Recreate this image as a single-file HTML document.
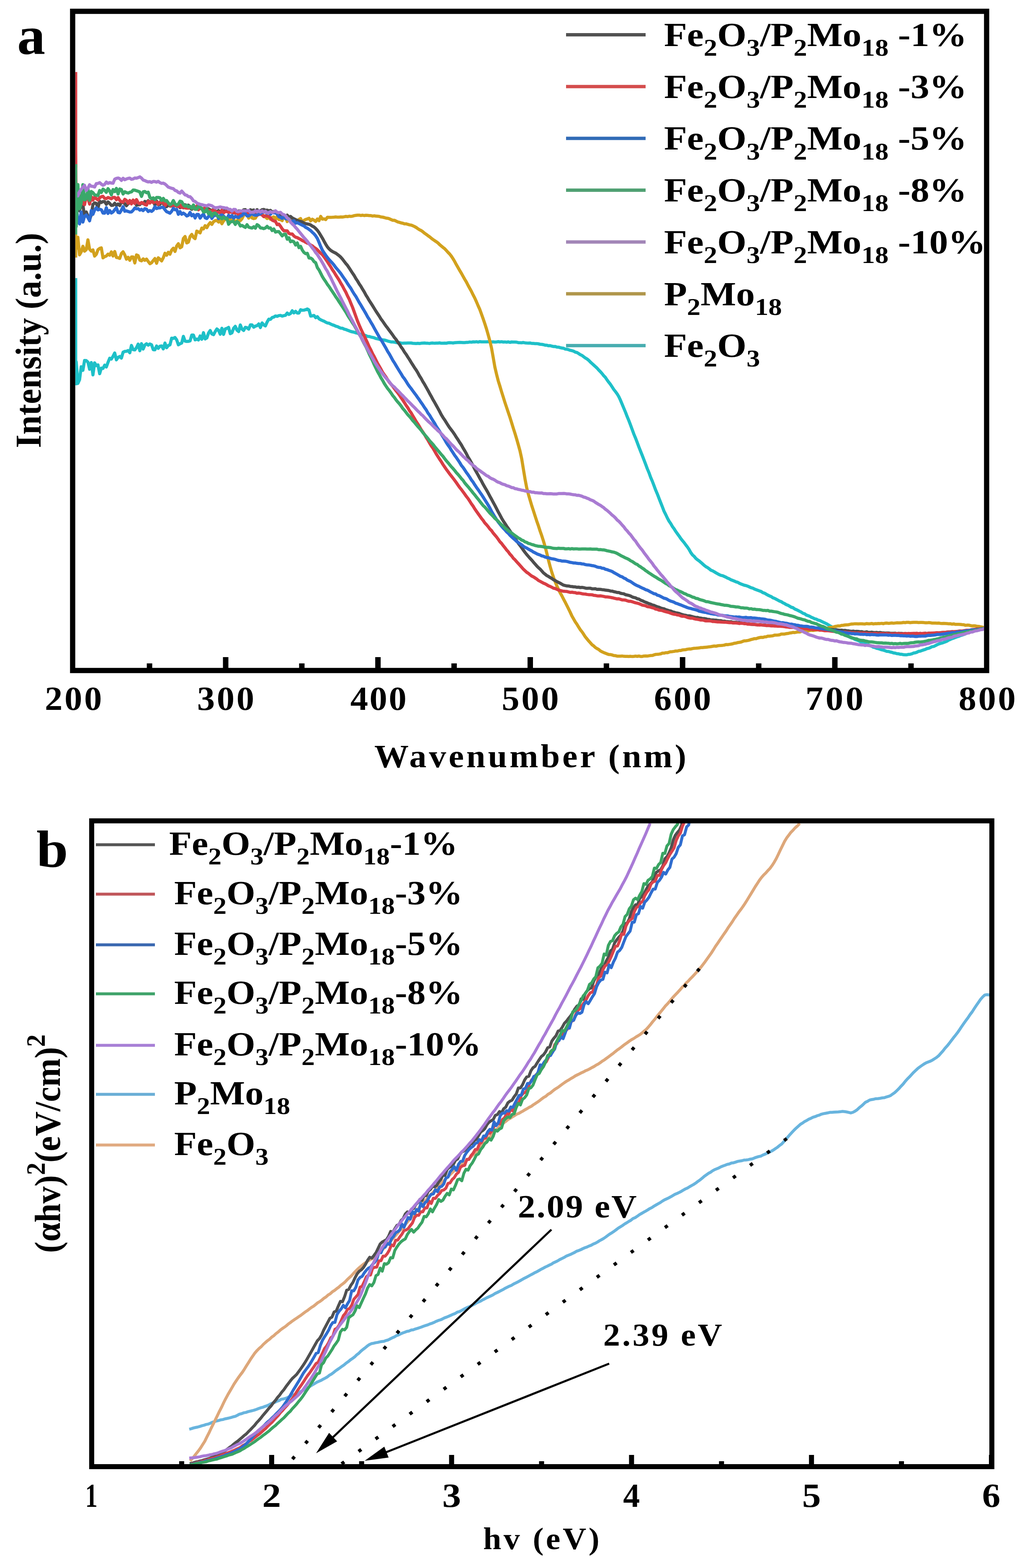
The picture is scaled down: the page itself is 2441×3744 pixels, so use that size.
<!DOCTYPE html><html><head><meta charset="utf-8"><title>UV-vis spectra</title><style>html,body{margin:0;padding:0;background:#fff;}svg{display:block;}</style></head><body>
<svg width="2441" height="3744" viewBox="0 0 2441 3744">
<rect width="2441" height="3744" fill="#fff"/>
<g clip-path="url(#clipa)">
<defs><clipPath id="clipa"><rect x="180" y="33" width="2170" height="1562"/></clipPath><clipPath id="clipb"><rect x="225" y="1965" width="2138" height="1532"/></clipPath></defs>
<path d="M178.0 907.1 L182.0 864.2 L186.0 915.5 L190.0 906.7 L194.0 875.8 L198.0 884.1 L202.0 860.7 L206.0 861.1 L210.0 864.5 L214.0 881.6 L218.0 865.7 L222.0 895.1 L226.0 866.5 L230.0 873.0 L234.0 871.3 L238.0 892.3 L242.0 879.0 L246.0 879.7 L250.0 871.9 L254.0 876.2 L258.0 865.2 L262.0 855.4 L266.0 857.4 L270.0 850.8 L274.0 842.8 L278.0 859.2 L282.0 853.4 L286.0 851.2 L290.0 854.9 L294.0 841.0 L298.0 839.1 L302.0 838.8 L306.0 837.0 L310.0 842.3 L314.0 824.9 L318.0 834.9 L322.0 835.6 L326.0 830.1 L330.0 821.7 L334.0 837.4 L338.0 820.6 L342.0 833.4 L346.0 823.7 L350.0 820.9 L354.0 824.2 L358.0 821.4 L362.0 823.2 L366.0 834.9 L370.0 835.3 L374.0 826.2 L378.0 831.8 L382.0 826.7 L386.0 826.0 L390.0 833.1 L394.0 819.2 L398.0 830.2 L402.0 824.9 L406.0 823.4 L410.0 807.5 L414.0 808.0 L418.0 805.8 L422.0 811.5 L426.0 823.3 L430.0 820.8 L434.0 819.1 L438.0 803.2 L442.0 814.6 L446.0 815.2 L450.0 815.1 L454.0 814.0 L458.0 799.9 L462.0 800.0 L466.0 811.5 L470.0 809.6 L474.0 811.8 L478.0 802.2 L482.0 810.0 L486.0 794.4 L490.0 809.3 L494.0 806.9 L498.0 795.4 L502.0 789.2 L506.0 797.4 L510.0 799.1 L514.0 791.8 L518.0 785.4 L522.0 788.7 L526.0 798.0 L530.0 783.8 L534.0 798.5 L538.0 785.4 L542.0 784.0 L546.0 781.8 L550.0 796.7 L554.0 794.6 L558.0 783.8 L562.0 779.3 L566.0 788.4 L570.0 791.7 L574.0 776.0 L578.0 785.9 L582.0 789.0 L586.0 781.5 L590.0 782.7 L594.0 785.9 L598.0 775.8 L602.0 775.7 L606.0 781.2 L610.0 778.7 L614.0 777.6 L618.0 773.5 L622.0 782.1 L626.0 771.0 L630.0 775.9 L634.0 778.1 L638.0 768.9 L642.0 762.1 L646.0 762.6 L650.0 758.2 L654.0 757.1 L658.0 754.4 L662.0 755.4 L666.0 753.6 L670.0 753.1 L674.0 754.8 L678.0 753.7 L682.0 752.8 L686.0 747.4 L690.0 750.8 L694.0 748.5 L698.0 742.0 L702.0 747.1 L706.0 743.4 L710.0 747.5 L714.0 747.4 L718.0 739.6 L722.0 740.8 L726.0 740.6 L730.0 739.4 L734.0 737.8 L738.0 740.3 L742.0 754.7 L746.0 754.2 L750.0 753.2 L754.0 758.6 L758.0 756.1 L762.0 761.3 L766.0 763.6 L770.0 765.4 L774.0 766.9 L778.0 769.4 L782.0 771.1 L786.0 771.8 L790.0 773.9 L794.0 775.6 L798.0 776.9 L802.0 778.9 L806.0 779.8 L810.0 781.9 L814.0 783.4 L818.0 783.8 L822.0 785.9 L826.0 786.8 L830.0 788.5 L834.0 789.9 L838.0 791.5 L842.0 792.5 L846.0 793.2 L850.0 794.9 L854.0 795.5 L858.0 797.4 L862.0 798.2 L866.0 799.2 L870.0 800.3 L874.0 801.4 L878.0 803.3 L882.0 803.5 L886.0 804.8 L890.0 805.7 L894.0 806.7 L898.0 808.4 L902.0 809.1 L906.0 810.1 L910.0 811.3 L914.0 811.6 L918.0 812.0 L922.0 813.0 L926.0 814.3 L930.0 815.4 L934.0 816.4 L938.0 816.6 L942.0 816.9 L946.0 817.8 L950.0 818.6 L954.0 818.2 L958.0 819.2 L962.0 819.5 L966.0 819.2 L970.0 819.3 L974.0 819.0 L978.0 819.1 L982.0 819.0 L986.0 819.8 L990.0 819.9 L994.0 820.3 L998.0 819.8 L1002.0 820.3 L1006.0 819.6 L1010.0 819.2 L1014.0 819.1 L1018.0 819.4 L1022.0 819.6 L1026.0 820.1 L1030.0 819.2 L1034.0 819.1 L1038.0 819.6 L1042.0 819.2 L1046.0 819.3 L1050.0 818.8 L1054.0 819.6 L1058.0 819.6 L1062.0 819.3 L1066.0 819.5 L1070.0 818.6 L1074.0 818.2 L1078.0 818.4 L1082.0 819.0 L1086.0 818.3 L1090.0 817.9 L1094.0 817.7 L1098.0 817.5 L1102.0 817.7 L1106.0 818.1 L1110.0 817.9 L1114.0 817.6 L1118.0 817.4 L1122.0 816.6 L1126.0 817.1 L1130.0 816.3 L1134.0 816.6 L1138.0 815.9 L1142.0 816.8 L1146.0 815.7 L1150.0 816.3 L1154.0 816.3 L1158.0 816.2 L1162.0 816.2 L1166.0 815.9 L1170.0 816.4 L1174.0 816.6 L1178.0 816.2 L1182.0 816.7 L1186.0 816.6 L1190.0 815.7 L1194.0 816.5 L1198.0 815.9 L1202.0 816.7 L1206.0 816.4 L1210.0 817.1 L1214.0 816.3 L1218.0 817.5 L1222.0 816.5 L1226.0 816.7 L1230.0 816.7 L1234.0 817.0 L1238.0 818.2 L1242.0 818.2 L1246.0 818.5 L1250.0 817.8 L1254.0 818.7 L1258.0 819.0 L1262.0 819.2 L1266.0 818.9 L1270.0 820.0 L1274.0 820.1 L1278.0 820.4 L1282.0 820.4 L1286.0 821.0 L1290.0 822.0 L1294.0 822.3 L1298.0 823.0 L1302.0 824.2 L1306.0 824.3 L1310.0 825.6 L1314.0 825.3 L1318.0 826.5 L1322.0 827.4 L1326.0 827.2 L1330.0 828.7 L1334.0 828.9 L1338.0 830.1 L1342.0 831.0 L1346.0 831.5 L1350.0 833.5 L1354.0 833.8 L1358.0 834.9 L1362.0 836.4 L1366.0 837.2 L1370.0 838.5 L1374.0 840.8 L1378.0 841.7 L1382.0 844.1 L1386.0 846.8 L1390.0 848.6 L1394.0 851.8 L1398.0 854.7 L1402.0 857.0 L1406.0 860.2 L1410.0 864.4 L1414.0 868.0 L1418.0 871.6 L1422.0 875.3 L1426.0 878.9 L1430.0 883.5 L1434.0 887.5 L1438.0 892.0 L1442.0 897.1 L1446.0 901.2 L1450.0 907.3 L1454.0 912.7 L1458.0 917.7 L1462.0 923.8 L1466.0 930.0 L1470.0 935.0 L1474.0 940.4 L1478.0 947.1 L1482.0 955.7 L1486.0 965.2 L1490.0 974.9 L1494.0 984.4 L1498.0 994.8 L1502.0 1004.4 L1506.0 1014.8 L1510.0 1025.8 L1514.0 1036.6 L1518.0 1046.2 L1522.0 1056.6 L1526.0 1067.4 L1530.0 1077.5 L1534.0 1087.5 L1538.0 1097.8 L1542.0 1108.4 L1546.0 1119.1 L1550.0 1128.6 L1554.0 1139.7 L1558.0 1149.0 L1562.0 1159.4 L1566.0 1170.1 L1570.0 1179.4 L1574.0 1189.9 L1578.0 1200.0 L1582.0 1210.2 L1586.0 1220.6 L1590.0 1228.5 L1594.0 1237.0 L1598.0 1244.4 L1602.0 1250.2 L1606.0 1257.2 L1610.0 1262.5 L1614.0 1268.9 L1618.0 1274.5 L1622.0 1279.9 L1626.0 1285.9 L1630.0 1290.9 L1634.0 1295.6 L1638.0 1301.1 L1642.0 1306.2 L1646.0 1312.3 L1650.0 1319.5 L1654.0 1325.0 L1658.0 1328.5 L1662.0 1333.3 L1666.0 1336.7 L1670.0 1339.4 L1674.0 1342.8 L1678.0 1346.4 L1682.0 1350.1 L1686.0 1353.1 L1690.0 1355.2 L1694.0 1358.2 L1698.0 1361.5 L1702.0 1363.0 L1706.0 1365.2 L1710.0 1367.7 L1714.0 1370.0 L1718.0 1372.1 L1722.0 1373.9 L1726.0 1374.6 L1730.0 1376.5 L1734.0 1378.2 L1738.0 1380.6 L1742.0 1382.1 L1746.0 1384.5 L1750.0 1385.9 L1754.0 1387.5 L1758.0 1389.3 L1762.0 1390.4 L1766.0 1392.8 L1770.0 1394.4 L1774.0 1396.0 L1778.0 1397.5 L1782.0 1398.3 L1786.0 1399.7 L1790.0 1401.5 L1794.0 1403.4 L1798.0 1404.3 L1802.0 1406.6 L1806.0 1408.1 L1810.0 1409.6 L1814.0 1411.0 L1818.0 1412.4 L1822.0 1415.1 L1826.0 1416.3 L1830.0 1418.7 L1834.0 1421.0 L1838.0 1422.9 L1842.0 1424.5 L1846.0 1427.4 L1850.0 1428.8 L1854.0 1430.9 L1858.0 1433.0 L1862.0 1435.3 L1866.0 1436.6 L1870.0 1439.4 L1874.0 1441.2 L1878.0 1443.7 L1882.0 1445.2 L1886.0 1447.5 L1890.0 1450.0 L1894.0 1451.0 L1898.0 1454.0 L1902.0 1455.7 L1906.0 1457.6 L1910.0 1459.7 L1914.0 1461.7 L1918.0 1464.5 L1922.0 1465.7 L1926.0 1468.6 L1930.0 1470.0 L1934.0 1471.6 L1938.0 1474.0 L1942.0 1475.5 L1946.0 1477.6 L1950.0 1478.4 L1954.0 1480.7 L1958.0 1481.6 L1962.0 1483.6 L1966.0 1485.6 L1970.0 1487.4 L1974.0 1489.3 L1978.0 1491.7 L1982.0 1494.2 L1986.0 1496.3 L1990.0 1499.1 L1994.0 1502.1 L1998.0 1504.0 L2002.0 1507.3 L2006.0 1508.4 L2010.0 1510.9 L2014.0 1513.5 L2018.0 1514.8 L2022.0 1516.9 L2026.0 1518.7 L2030.0 1521.6 L2034.0 1523.4 L2038.0 1524.3 L2042.0 1526.7 L2046.0 1528.1 L2050.0 1529.7 L2054.0 1531.7 L2058.0 1534.0 L2062.0 1535.5 L2066.0 1536.9 L2070.0 1538.9 L2074.0 1539.9 L2078.0 1541.8 L2082.0 1543.1 L2086.0 1545.4 L2090.0 1546.3 L2094.0 1548.0 L2098.0 1548.9 L2102.0 1550.2 L2106.0 1551.6 L2110.0 1552.4 L2114.0 1553.8 L2118.0 1555.3 L2122.0 1555.5 L2126.0 1556.7 L2130.0 1557.5 L2134.0 1559.0 L2138.0 1559.5 L2142.0 1560.8 L2146.0 1561.1 L2150.0 1562.2 L2154.0 1562.3 L2158.0 1563.3 L2162.0 1563.4 L2166.0 1563.5 L2170.0 1562.4 L2174.0 1562.2 L2178.0 1561.2 L2182.0 1559.3 L2186.0 1558.8 L2190.0 1557.4 L2194.0 1555.2 L2198.0 1554.7 L2202.0 1553.3 L2206.0 1551.9 L2210.0 1550.7 L2214.0 1548.7 L2218.0 1547.9 L2222.0 1546.3 L2226.0 1544.1 L2230.0 1543.6 L2234.0 1541.7 L2238.0 1539.4 L2242.0 1537.8 L2246.0 1536.4 L2250.0 1535.4 L2254.0 1533.9 L2258.0 1532.5 L2262.0 1530.8 L2266.0 1528.3 L2270.0 1526.7 L2274.0 1524.9 L2278.0 1523.6 L2282.0 1522.0 L2286.0 1520.4 L2290.0 1519.4 L2294.0 1517.6 L2298.0 1516.4 L2302.0 1515.0 L2306.0 1513.4 L2310.0 1511.6 L2314.0 1510.0 L2318.0 1508.8 L2322.0 1507.3 L2326.0 1506.1 L2330.0 1505.0 L2334.0 1503.5 L2338.0 1501.7 L2342.0 1501.0 L2346.0 1500.0 L2350.0 1499.0 L2354.0 1498.7 L2356.0 1499.0" fill="none" stroke="#1ec0c8" stroke-width="7.5" stroke-linejoin="round" stroke-linecap="butt" />
<path d="M178.0 542.6 L182.0 593.5 L186.0 566.8 L190.0 608.4 L194.0 601.4 L198.0 588.0 L202.0 599.7 L206.0 596.2 L210.0 572.7 L214.0 595.1 L218.0 599.6 L222.0 596.7 L226.0 611.4 L230.0 607.2 L234.0 596.2 L238.0 593.1 L242.0 591.9 L246.0 615.6 L250.0 612.8 L254.0 611.2 L258.0 606.8 L262.0 609.3 L266.0 601.5 L270.0 611.3 L274.0 600.5 L278.0 614.8 L282.0 615.4 L286.0 616.9 L290.0 605.2 L294.0 601.3 L298.0 608.5 L302.0 618.8 L306.0 614.4 L310.0 621.5 L314.0 613.6 L318.0 613.4 L322.0 627.8 L326.0 608.7 L330.0 610.5 L334.0 621.2 L338.0 622.9 L342.0 618.1 L346.0 621.6 L350.0 618.6 L354.0 624.3 L358.0 629.6 L362.0 627.4 L366.0 622.1 L370.0 617.3 L374.0 628.6 L378.0 615.6 L382.0 618.9 L386.0 623.0 L390.0 615.5 L394.0 604.7 L398.0 609.3 L402.0 602.4 L406.0 606.9 L410.0 597.3 L414.0 592.6 L418.0 600.3 L422.0 587.4 L426.0 581.9 L430.0 591.7 L434.0 589.3 L438.0 569.4 L442.0 564.8 L446.0 580.0 L450.0 578.1 L454.0 564.8 L458.0 559.7 L462.0 566.7 L466.0 569.8 L470.0 551.9 L474.0 553.9 L478.0 556.0 L482.0 544.6 L486.0 546.5 L490.0 538.8 L494.0 543.6 L498.0 536.5 L502.0 531.5 L506.0 535.8 L510.0 529.3 L514.0 527.0 L518.0 526.2 L522.0 530.2 L526.0 527.2 L530.0 534.2 L534.0 527.4 L538.0 523.5 L542.0 521.8 L546.0 523.3 L550.0 530.8 L554.0 520.1 L558.0 524.1 L562.0 529.3 L566.0 528.7 L570.0 521.1 L574.0 526.8 L578.0 522.2 L582.0 514.0 L586.0 510.8 L590.0 511.2 L594.0 520.9 L598.0 513.5 L602.0 520.4 L606.0 522.0 L610.0 520.9 L614.0 513.5 L618.0 506.1 L622.0 510.6 L626.0 510.0 L630.0 517.0 L634.0 518.1 L638.0 521.9 L642.0 519.1 L646.0 523.6 L650.0 519.5 L654.0 517.8 L658.0 523.8 L662.0 516.5 L666.0 524.3 L670.0 524.2 L674.0 526.7 L678.0 516.1 L682.0 518.4 L686.0 529.1 L690.0 518.8 L694.0 523.4 L698.0 525.8 L702.0 524.7 L706.0 530.2 L710.0 531.4 L714.0 524.1 L718.0 521.9 L722.0 531.7 L726.0 526.3 L730.0 524.0 L734.0 522.8 L738.0 521.1 L742.0 527.4 L746.0 523.4 L750.0 525.7 L754.0 528.8 L758.0 522.9 L762.0 526.9 L766.0 516.7 L770.0 523.3 L774.0 522.6 L778.0 524.3 L782.0 518.8 L786.0 519.1 L790.0 518.9 L794.0 518.8 L798.0 518.5 L802.0 518.0 L806.0 518.6 L810.0 518.5 L814.0 518.1 L818.0 518.2 L822.0 517.6 L826.0 516.8 L830.0 517.3 L834.0 516.3 L838.0 516.7 L842.0 516.1 L846.0 514.9 L850.0 514.2 L854.0 513.7 L858.0 513.7 L862.0 514.6 L866.0 513.8 L870.0 514.7 L874.0 513.9 L878.0 514.3 L882.0 514.7 L886.0 514.8 L890.0 515.9 L894.0 515.3 L898.0 516.1 L902.0 516.2 L906.0 516.7 L910.0 518.1 L914.0 518.5 L918.0 519.5 L922.0 520.8 L926.0 521.2 L930.0 522.3 L934.0 524.3 L938.0 525.9 L942.0 526.0 L946.0 527.8 L950.0 529.8 L954.0 530.9 L958.0 532.3 L962.0 533.0 L966.0 534.6 L970.0 534.4 L974.0 535.7 L978.0 536.9 L982.0 537.5 L986.0 539.1 L990.0 540.9 L994.0 543.1 L998.0 546.0 L1002.0 548.7 L1006.0 550.5 L1010.0 553.4 L1014.0 556.8 L1018.0 559.6 L1022.0 562.6 L1026.0 565.4 L1030.0 568.7 L1034.0 571.7 L1038.0 574.5 L1042.0 577.1 L1046.0 580.0 L1050.0 584.0 L1054.0 587.3 L1058.0 590.7 L1062.0 593.7 L1066.0 598.1 L1070.0 602.5 L1074.0 606.5 L1078.0 611.6 L1082.0 617.8 L1086.0 624.4 L1090.0 631.9 L1094.0 638.9 L1098.0 645.8 L1102.0 652.5 L1106.0 659.8 L1110.0 666.9 L1114.0 673.5 L1118.0 681.4 L1122.0 688.6 L1126.0 695.8 L1130.0 704.1 L1134.0 711.8 L1138.0 720.6 L1142.0 730.1 L1146.0 738.9 L1150.0 750.0 L1154.0 761.3 L1158.0 773.0 L1162.0 785.5 L1166.0 799.5 L1170.0 814.0 L1174.0 831.1 L1178.0 853.7 L1182.0 876.7 L1186.0 893.6 L1190.0 909.3 L1194.0 922.0 L1198.0 935.5 L1202.0 948.2 L1206.0 961.0 L1210.0 972.9 L1214.0 984.7 L1218.0 996.6 L1222.0 1009.3 L1226.0 1022.5 L1230.0 1034.9 L1234.0 1048.1 L1238.0 1062.1 L1242.0 1076.7 L1246.0 1095.1 L1250.0 1119.6 L1254.0 1143.7 L1258.0 1164.8 L1262.0 1180.0 L1266.0 1193.8 L1270.0 1207.3 L1274.0 1219.4 L1278.0 1231.8 L1282.0 1244.2 L1286.0 1255.6 L1290.0 1268.0 L1294.0 1279.3 L1298.0 1291.8 L1302.0 1305.1 L1306.0 1320.8 L1310.0 1337.6 L1314.0 1352.8 L1318.0 1366.5 L1322.0 1378.5 L1326.0 1389.2 L1330.0 1398.8 L1334.0 1407.5 L1338.0 1415.6 L1342.0 1422.6 L1346.0 1430.5 L1350.0 1438.0 L1354.0 1445.9 L1358.0 1453.9 L1362.0 1462.1 L1366.0 1470.9 L1370.0 1477.8 L1374.0 1484.9 L1378.0 1490.6 L1382.0 1497.3 L1386.0 1503.6 L1390.0 1508.5 L1394.0 1514.4 L1398.0 1520.7 L1402.0 1525.5 L1406.0 1530.4 L1410.0 1534.7 L1414.0 1539.4 L1418.0 1542.3 L1422.0 1546.1 L1426.0 1548.6 L1430.0 1550.8 L1434.0 1554.3 L1438.0 1556.4 L1442.0 1558.2 L1446.0 1559.7 L1450.0 1561.4 L1454.0 1562.8 L1458.0 1562.9 L1462.0 1563.9 L1466.0 1565.3 L1470.0 1565.6 L1474.0 1566.7 L1478.0 1566.8 L1482.0 1566.7 L1486.0 1566.4 L1490.0 1567.1 L1494.0 1567.2 L1498.0 1567.2 L1502.0 1567.5 L1506.0 1567.1 L1510.0 1567.6 L1514.0 1567.2 L1518.0 1566.6 L1522.0 1567.3 L1526.0 1566.5 L1530.0 1567.4 L1534.0 1567.4 L1538.0 1566.4 L1542.0 1566.2 L1546.0 1566.6 L1550.0 1565.9 L1554.0 1565.3 L1558.0 1565.1 L1562.0 1563.7 L1566.0 1562.6 L1570.0 1562.3 L1574.0 1561.9 L1578.0 1561.3 L1582.0 1559.5 L1586.0 1559.6 L1590.0 1558.5 L1594.0 1558.6 L1598.0 1557.2 L1602.0 1556.2 L1606.0 1555.9 L1610.0 1555.4 L1614.0 1554.4 L1618.0 1554.5 L1622.0 1553.3 L1626.0 1553.2 L1630.0 1551.9 L1634.0 1551.6 L1638.0 1551.2 L1642.0 1550.1 L1646.0 1549.6 L1650.0 1549.7 L1654.0 1548.6 L1658.0 1548.0 L1662.0 1547.8 L1666.0 1547.4 L1670.0 1547.1 L1674.0 1546.3 L1678.0 1546.2 L1682.0 1545.8 L1686.0 1545.4 L1690.0 1545.0 L1694.0 1544.4 L1698.0 1544.0 L1702.0 1543.2 L1706.0 1542.5 L1710.0 1543.0 L1714.0 1542.0 L1718.0 1541.4 L1722.0 1541.2 L1726.0 1540.9 L1730.0 1540.4 L1734.0 1539.0 L1738.0 1539.2 L1742.0 1538.6 L1746.0 1538.0 L1750.0 1537.2 L1754.0 1535.9 L1758.0 1535.5 L1762.0 1534.3 L1766.0 1533.7 L1770.0 1533.0 L1774.0 1531.4 L1778.0 1530.2 L1782.0 1530.0 L1786.0 1529.4 L1790.0 1528.4 L1794.0 1527.0 L1798.0 1526.1 L1802.0 1524.9 L1806.0 1525.0 L1810.0 1523.5 L1814.0 1522.5 L1818.0 1521.8 L1822.0 1522.1 L1826.0 1520.8 L1830.0 1520.6 L1834.0 1519.0 L1838.0 1518.9 L1842.0 1518.6 L1846.0 1518.0 L1850.0 1516.6 L1854.0 1516.4 L1858.0 1516.2 L1862.0 1515.7 L1866.0 1514.1 L1870.0 1514.1 L1874.0 1513.9 L1878.0 1513.0 L1882.0 1512.6 L1886.0 1511.5 L1890.0 1511.1 L1894.0 1510.0 L1898.0 1510.4 L1902.0 1509.6 L1906.0 1508.7 L1910.0 1509.1 L1914.0 1507.8 L1918.0 1507.2 L1922.0 1507.5 L1926.0 1506.3 L1930.0 1506.6 L1934.0 1505.5 L1938.0 1504.9 L1942.0 1505.3 L1946.0 1504.7 L1950.0 1504.2 L1954.0 1503.6 L1958.0 1503.0 L1962.0 1501.7 L1966.0 1501.3 L1970.0 1500.7 L1974.0 1500.3 L1978.0 1499.3 L1982.0 1498.4 L1986.0 1498.1 L1990.0 1497.4 L1994.0 1496.0 L1998.0 1495.3 L2002.0 1494.4 L2006.0 1494.7 L2010.0 1493.2 L2014.0 1493.0 L2018.0 1492.3 L2022.0 1491.9 L2026.0 1491.7 L2030.0 1490.9 L2034.0 1490.0 L2038.0 1489.9 L2042.0 1489.4 L2046.0 1489.4 L2050.0 1489.7 L2054.0 1489.5 L2058.0 1489.4 L2062.0 1489.7 L2066.0 1489.9 L2070.0 1489.0 L2074.0 1489.5 L2078.0 1489.4 L2082.0 1488.7 L2086.0 1489.8 L2090.0 1489.1 L2094.0 1489.3 L2098.0 1488.7 L2102.0 1488.9 L2106.0 1488.4 L2110.0 1489.2 L2114.0 1488.0 L2118.0 1487.8 L2122.0 1488.4 L2126.0 1488.0 L2130.0 1487.5 L2134.0 1488.1 L2138.0 1487.6 L2142.0 1487.1 L2146.0 1487.2 L2150.0 1487.3 L2154.0 1487.0 L2158.0 1486.3 L2162.0 1486.7 L2166.0 1485.9 L2170.0 1486.0 L2174.0 1486.7 L2178.0 1486.3 L2182.0 1485.9 L2186.0 1486.1 L2190.0 1486.0 L2194.0 1486.4 L2198.0 1486.3 L2202.0 1486.3 L2206.0 1486.4 L2210.0 1487.1 L2214.0 1487.1 L2218.0 1486.6 L2222.0 1486.9 L2226.0 1487.7 L2230.0 1487.7 L2234.0 1487.8 L2238.0 1488.0 L2242.0 1487.7 L2246.0 1488.4 L2250.0 1488.8 L2254.0 1488.6 L2258.0 1488.8 L2262.0 1489.1 L2266.0 1489.5 L2270.0 1489.3 L2274.0 1490.3 L2278.0 1489.7 L2282.0 1490.8 L2286.0 1490.8 L2290.0 1490.8 L2294.0 1491.1 L2298.0 1491.5 L2302.0 1491.7 L2306.0 1493.1 L2310.0 1492.6 L2314.0 1492.7 L2318.0 1493.8 L2322.0 1494.6 L2326.0 1494.2 L2330.0 1494.6 L2334.0 1495.6 L2338.0 1495.8 L2342.0 1496.6 L2346.0 1497.4 L2350.0 1498.6 L2354.0 1498.5 L2356.0 1499.0" fill="none" stroke="#d2a11d" stroke-width="7.5" stroke-linejoin="round" stroke-linecap="butt" />
<path d="M178.0 516.4 L182.0 480.1 L186.0 499.1 L190.0 503.5 L194.0 485.9 L198.0 489.6 L202.0 517.1 L206.0 506.1 L210.0 516.0 L214.0 524.6 L218.0 513.1 L222.0 488.1 L226.0 484.4 L230.0 485.6 L234.0 496.5 L238.0 480.3 L242.0 483.6 L246.0 481.2 L250.0 481.4 L254.0 487.7 L258.0 482.1 L262.0 485.6 L266.0 490.4 L270.0 490.1 L274.0 485.3 L278.0 490.6 L282.0 487.2 L286.0 490.7 L290.0 482.2 L294.0 483.7 L298.0 486.4 L302.0 491.2 L306.0 486.4 L310.0 484.1 L314.0 480.9 L318.0 481.1 L322.0 480.1 L326.0 490.2 L330.0 488.7 L334.0 488.7 L338.0 483.9 L342.0 486.2 L346.0 480.9 L350.0 483.3 L354.0 479.2 L358.0 482.8 L362.0 480.9 L366.0 479.3 L370.0 489.7 L374.0 480.0 L378.0 489.0 L382.0 488.1 L386.0 481.2 L390.0 486.4 L394.0 493.0 L398.0 493.4 L402.0 488.9 L406.0 491.9 L410.0 491.7 L414.0 487.5 L418.0 491.0 L422.0 492.1 L426.0 490.4 L430.0 495.7 L434.0 492.1 L438.0 496.0 L442.0 489.0 L446.0 493.7 L450.0 489.9 L454.0 496.8 L458.0 499.7 L462.0 496.7 L466.0 497.3 L470.0 498.4 L474.0 494.7 L478.0 496.8 L482.0 499.2 L486.0 500.4 L490.0 498.1 L494.0 499.5 L498.0 498.5 L502.0 501.1 L506.0 502.7 L510.0 499.8 L514.0 503.6 L518.0 505.5 L522.0 502.9 L526.0 507.5 L530.0 501.5 L534.0 507.5 L538.0 501.0 L542.0 503.0 L546.0 507.3 L550.0 500.5 L554.0 505.9 L558.0 508.2 L562.0 508.9 L566.0 506.6 L570.0 503.7 L574.0 503.5 L578.0 505.8 L582.0 501.0 L586.0 500.5 L590.0 507.2 L594.0 504.8 L598.0 500.8 L602.0 502.7 L606.0 501.3 L610.0 505.5 L614.0 500.7 L618.0 503.9 L622.0 503.8 L626.0 500.6 L630.0 500.1 L634.0 502.2 L638.0 501.7 L642.0 503.4 L646.0 502.3 L650.0 506.4 L654.0 504.9 L658.0 504.4 L662.0 510.2 L666.0 512.5 L670.0 512.5 L674.0 513.0 L678.0 516.4 L682.0 518.2 L686.0 513.8 L690.0 518.2 L694.0 516.9 L698.0 520.3 L702.0 522.5 L706.0 524.4 L710.0 526.2 L714.0 528.0 L718.0 528.9 L722.0 530.1 L726.0 532.8 L730.0 533.8 L734.0 534.8 L738.0 535.6 L742.0 537.1 L746.0 540.0 L750.0 541.9 L754.0 545.6 L758.0 549.9 L762.0 555.4 L766.0 562.0 L770.0 568.6 L774.0 576.1 L778.0 583.2 L782.0 589.6 L786.0 594.3 L790.0 597.9 L794.0 600.5 L798.0 602.6 L802.0 604.5 L806.0 607.5 L810.0 610.5 L814.0 614.1 L818.0 618.8 L822.0 624.0 L826.0 629.2 L830.0 633.8 L834.0 639.8 L838.0 646.1 L842.0 652.2 L846.0 658.0 L850.0 665.1 L854.0 671.0 L858.0 677.9 L862.0 683.7 L866.0 690.6 L870.0 697.0 L874.0 704.6 L878.0 710.8 L882.0 717.8 L886.0 723.9 L890.0 730.1 L894.0 736.6 L898.0 743.1 L902.0 749.1 L906.0 755.1 L910.0 761.7 L914.0 767.0 L918.0 772.9 L922.0 778.7 L926.0 783.7 L930.0 789.3 L934.0 794.6 L938.0 800.0 L942.0 805.9 L946.0 810.7 L950.0 816.6 L954.0 821.9 L958.0 828.4 L962.0 833.8 L966.0 840.6 L970.0 846.1 L974.0 852.5 L978.0 858.5 L982.0 865.2 L986.0 871.4 L990.0 877.8 L994.0 883.5 L998.0 890.2 L1002.0 897.6 L1006.0 903.8 L1010.0 911.2 L1014.0 917.6 L1018.0 924.8 L1022.0 931.8 L1026.0 939.3 L1030.0 946.3 L1034.0 954.0 L1038.0 960.7 L1042.0 967.9 L1046.0 975.0 L1050.0 982.4 L1054.0 990.2 L1058.0 996.8 L1062.0 1002.6 L1066.0 1008.9 L1070.0 1015.4 L1074.0 1021.3 L1078.0 1026.6 L1082.0 1031.8 L1086.0 1037.6 L1090.0 1044.2 L1094.0 1050.0 L1098.0 1056.4 L1102.0 1062.4 L1106.0 1069.7 L1110.0 1076.2 L1114.0 1083.4 L1118.0 1091.4 L1122.0 1097.8 L1126.0 1105.1 L1130.0 1112.4 L1134.0 1120.4 L1138.0 1127.4 L1142.0 1134.5 L1146.0 1142.0 L1150.0 1148.7 L1154.0 1156.4 L1158.0 1163.4 L1162.0 1170.1 L1166.0 1177.2 L1170.0 1184.8 L1174.0 1191.9 L1178.0 1199.5 L1182.0 1206.8 L1186.0 1214.5 L1190.0 1222.2 L1194.0 1229.4 L1198.0 1237.1 L1202.0 1243.9 L1206.0 1249.8 L1210.0 1256.1 L1214.0 1261.6 L1218.0 1267.5 L1222.0 1273.8 L1226.0 1279.9 L1230.0 1285.9 L1234.0 1291.4 L1238.0 1297.2 L1242.0 1302.4 L1246.0 1307.9 L1250.0 1313.5 L1254.0 1319.0 L1258.0 1324.0 L1262.0 1328.6 L1266.0 1333.2 L1270.0 1337.4 L1274.0 1342.2 L1278.0 1346.7 L1282.0 1351.3 L1286.0 1355.4 L1290.0 1358.8 L1294.0 1363.2 L1298.0 1367.9 L1302.0 1371.0 L1306.0 1374.3 L1310.0 1376.4 L1314.0 1379.0 L1318.0 1381.3 L1322.0 1384.2 L1326.0 1386.3 L1330.0 1388.7 L1334.0 1390.6 L1338.0 1392.6 L1342.0 1394.9 L1346.0 1397.2 L1350.0 1398.2 L1354.0 1399.1 L1358.0 1399.2 L1362.0 1400.2 L1366.0 1400.5 L1370.0 1401.2 L1374.0 1401.3 L1378.0 1402.3 L1382.0 1402.0 L1386.0 1403.0 L1390.0 1402.5 L1394.0 1403.1 L1398.0 1404.2 L1402.0 1404.7 L1406.0 1404.4 L1410.0 1404.6 L1414.0 1405.9 L1418.0 1405.9 L1422.0 1405.7 L1426.0 1407.2 L1430.0 1407.1 L1434.0 1407.2 L1438.0 1407.9 L1442.0 1408.3 L1446.0 1409.1 L1450.0 1409.5 L1454.0 1410.0 L1458.0 1411.2 L1462.0 1411.4 L1466.0 1412.8 L1470.0 1413.5 L1474.0 1414.7 L1478.0 1414.7 L1482.0 1416.5 L1486.0 1417.4 L1490.0 1417.9 L1494.0 1420.0 L1498.0 1420.8 L1502.0 1421.7 L1506.0 1423.0 L1510.0 1425.4 L1514.0 1426.6 L1518.0 1427.4 L1522.0 1429.8 L1526.0 1430.4 L1530.0 1432.9 L1534.0 1434.4 L1538.0 1436.4 L1542.0 1438.1 L1546.0 1439.6 L1550.0 1441.4 L1554.0 1442.5 L1558.0 1444.6 L1562.0 1445.5 L1566.0 1447.4 L1570.0 1448.8 L1574.0 1449.8 L1578.0 1451.7 L1582.0 1453.0 L1586.0 1453.7 L1590.0 1455.6 L1594.0 1456.8 L1598.0 1458.3 L1602.0 1458.9 L1606.0 1460.9 L1610.0 1461.8 L1614.0 1463.3 L1618.0 1463.8 L1622.0 1464.7 L1626.0 1466.2 L1630.0 1467.5 L1634.0 1468.6 L1638.0 1469.2 L1642.0 1470.5 L1646.0 1470.5 L1650.0 1471.3 L1654.0 1472.4 L1658.0 1473.5 L1662.0 1474.4 L1666.0 1474.2 L1670.0 1475.6 L1674.0 1476.0 L1678.0 1476.9 L1682.0 1477.0 L1686.0 1477.7 L1690.0 1478.8 L1694.0 1479.0 L1698.0 1480.3 L1702.0 1480.2 L1706.0 1480.5 L1710.0 1480.7 L1714.0 1481.6 L1718.0 1482.0 L1722.0 1482.1 L1726.0 1483.4 L1730.0 1483.3 L1734.0 1484.0 L1738.0 1484.3 L1742.0 1485.0 L1746.0 1484.5 L1750.0 1486.0 L1754.0 1486.0 L1758.0 1486.0 L1762.0 1486.9 L1766.0 1486.7 L1770.0 1487.6 L1774.0 1487.7 L1778.0 1488.0 L1782.0 1488.9 L1786.0 1489.8 L1790.0 1490.1 L1794.0 1490.7 L1798.0 1490.9 L1802.0 1491.1 L1806.0 1491.4 L1810.0 1492.2 L1814.0 1491.6 L1818.0 1492.3 L1822.0 1492.6 L1826.0 1492.2 L1830.0 1493.5 L1834.0 1493.5 L1838.0 1493.3 L1842.0 1494.1 L1846.0 1493.9 L1850.0 1494.4 L1854.0 1494.3 L1858.0 1494.9 L1862.0 1494.6 L1866.0 1494.3 L1870.0 1495.3 L1874.0 1494.8 L1878.0 1495.4 L1882.0 1496.0 L1886.0 1496.0 L1890.0 1495.4 L1894.0 1496.6 L1898.0 1497.0 L1902.0 1496.6 L1906.0 1496.6 L1910.0 1497.1 L1914.0 1497.5 L1918.0 1497.1 L1922.0 1498.4 L1926.0 1498.4 L1930.0 1498.4 L1934.0 1499.2 L1938.0 1498.7 L1942.0 1499.9 L1946.0 1500.1 L1950.0 1500.0 L1954.0 1499.9 L1958.0 1500.6 L1962.0 1500.5 L1966.0 1501.4 L1970.0 1501.2 L1974.0 1502.0 L1978.0 1502.2 L1982.0 1502.5 L1986.0 1503.1 L1990.0 1503.4 L1994.0 1504.2 L1998.0 1504.0 L2002.0 1504.5 L2006.0 1505.0 L2010.0 1504.7 L2014.0 1505.4 L2018.0 1505.3 L2022.0 1506.0 L2026.0 1506.3 L2030.0 1507.1 L2034.0 1507.5 L2038.0 1507.0 L2042.0 1507.9 L2046.0 1507.6 L2050.0 1507.7 L2054.0 1508.4 L2058.0 1508.2 L2062.0 1509.3 L2066.0 1509.4 L2070.0 1508.6 L2074.0 1510.0 L2078.0 1510.1 L2082.0 1509.4 L2086.0 1510.3 L2090.0 1510.4 L2094.0 1510.1 L2098.0 1511.0 L2102.0 1510.3 L2106.0 1510.9 L2110.0 1511.3 L2114.0 1511.8 L2118.0 1511.5 L2122.0 1511.6 L2126.0 1512.0 L2130.0 1512.2 L2134.0 1512.2 L2138.0 1511.9 L2142.0 1512.9 L2146.0 1512.3 L2150.0 1512.4 L2154.0 1512.5 L2158.0 1513.4 L2162.0 1512.5 L2166.0 1513.2 L2170.0 1513.1 L2174.0 1512.7 L2178.0 1513.4 L2182.0 1512.6 L2186.0 1512.5 L2190.0 1512.4 L2194.0 1513.1 L2198.0 1512.3 L2202.0 1512.9 L2206.0 1512.8 L2210.0 1512.0 L2214.0 1512.9 L2218.0 1511.8 L2222.0 1511.8 L2226.0 1512.3 L2230.0 1511.4 L2234.0 1511.8 L2238.0 1511.5 L2242.0 1511.4 L2246.0 1510.7 L2250.0 1510.3 L2254.0 1510.3 L2258.0 1510.2 L2262.0 1509.2 L2266.0 1508.9 L2270.0 1508.8 L2274.0 1508.3 L2278.0 1508.8 L2282.0 1508.6 L2286.0 1507.7 L2290.0 1507.1 L2294.0 1506.8 L2298.0 1506.9 L2302.0 1506.3 L2306.0 1505.7 L2310.0 1505.3 L2314.0 1505.2 L2318.0 1504.4 L2322.0 1503.5 L2326.0 1503.9 L2330.0 1502.4 L2334.0 1502.0 L2338.0 1501.7 L2342.0 1501.4 L2346.0 1501.2 L2350.0 1501.1 L2354.0 1499.9 L2356.0 1500.0" fill="none" stroke="#4d4d4d" stroke-width="7.5" stroke-linejoin="round" stroke-linecap="butt" />
<path d="M178.0 199.8 L182.0 476.9 L186.0 481.5 L190.0 467.1 L194.0 473.8 L198.0 486.5 L202.0 488.5 L206.0 468.1 L210.0 472.2 L214.0 487.4 L218.0 469.5 L222.0 477.9 L226.0 470.1 L230.0 474.4 L234.0 477.3 L238.0 472.3 L242.0 469.6 L246.0 468.8 L250.0 473.6 L254.0 474.2 L258.0 471.6 L262.0 473.0 L266.0 474.6 L270.0 471.5 L274.0 471.2 L278.0 476.9 L282.0 471.6 L286.0 478.5 L290.0 481.7 L294.0 482.6 L298.0 476.0 L302.0 478.6 L306.0 485.3 L310.0 478.7 L314.0 486.8 L318.0 477.7 L322.0 485.7 L326.0 476.6 L330.0 484.3 L334.0 486.3 L338.0 483.6 L342.0 484.9 L346.0 488.4 L350.0 489.6 L354.0 480.7 L358.0 484.9 L362.0 479.8 L366.0 484.0 L370.0 481.8 L374.0 482.4 L378.0 487.8 L382.0 482.3 L386.0 483.5 L390.0 482.3 L394.0 491.3 L398.0 485.6 L402.0 484.2 L406.0 490.4 L410.0 491.8 L414.0 491.2 L418.0 490.8 L422.0 491.0 L426.0 493.3 L430.0 489.6 L434.0 495.4 L438.0 494.3 L442.0 496.4 L446.0 497.1 L450.0 497.1 L454.0 494.4 L458.0 495.0 L462.0 497.5 L466.0 496.6 L470.0 491.9 L474.0 501.0 L478.0 494.8 L482.0 498.1 L486.0 498.5 L490.0 495.8 L494.0 500.9 L498.0 501.7 L502.0 504.4 L506.0 503.2 L510.0 501.2 L514.0 504.1 L518.0 508.3 L522.0 506.1 L526.0 508.5 L530.0 502.0 L534.0 508.4 L538.0 505.0 L542.0 505.2 L546.0 507.1 L550.0 506.4 L554.0 506.2 L558.0 507.7 L562.0 508.2 L566.0 508.6 L570.0 513.3 L574.0 507.7 L578.0 508.7 L582.0 507.6 L586.0 511.1 L590.0 509.0 L594.0 511.2 L598.0 509.0 L602.0 508.7 L606.0 511.0 L610.0 507.9 L614.0 514.2 L618.0 512.3 L622.0 511.4 L626.0 513.4 L630.0 517.2 L634.0 515.0 L638.0 516.1 L642.0 516.8 L646.0 520.2 L650.0 525.6 L654.0 527.5 L658.0 528.7 L662.0 536.4 L666.0 535.1 L670.0 540.3 L674.0 546.6 L678.0 550.9 L682.0 551.0 L686.0 551.2 L690.0 557.2 L694.0 558.7 L698.0 558.7 L702.0 563.5 L706.0 566.3 L710.0 567.4 L714.0 569.6 L718.0 571.6 L722.0 574.4 L726.0 575.9 L730.0 578.5 L734.0 580.6 L738.0 582.1 L742.0 585.0 L746.0 587.1 L750.0 590.8 L754.0 593.3 L758.0 596.5 L762.0 600.7 L766.0 604.8 L770.0 608.3 L774.0 613.4 L778.0 619.1 L782.0 624.9 L786.0 631.2 L790.0 637.3 L794.0 644.1 L798.0 649.9 L802.0 656.6 L806.0 662.7 L810.0 668.9 L814.0 676.2 L818.0 682.8 L822.0 690.6 L826.0 697.6 L830.0 706.5 L834.0 714.2 L838.0 724.1 L842.0 733.6 L846.0 744.6 L850.0 755.7 L854.0 766.8 L858.0 776.4 L862.0 785.5 L866.0 794.0 L870.0 802.2 L874.0 810.9 L878.0 819.2 L882.0 828.6 L886.0 836.0 L890.0 844.7 L894.0 851.9 L898.0 859.9 L902.0 868.0 L906.0 874.7 L910.0 881.7 L914.0 889.3 L918.0 894.9 L922.0 900.5 L926.0 907.0 L930.0 912.8 L934.0 917.6 L938.0 922.2 L942.0 927.8 L946.0 933.2 L950.0 938.0 L954.0 943.5 L958.0 949.6 L962.0 955.2 L966.0 961.5 L970.0 967.8 L974.0 973.5 L978.0 980.4 L982.0 985.8 L986.0 992.8 L990.0 999.5 L994.0 1006.3 L998.0 1012.3 L1002.0 1018.8 L1006.0 1025.8 L1010.0 1031.7 L1014.0 1037.7 L1018.0 1044.6 L1022.0 1050.8 L1026.0 1057.8 L1030.0 1064.5 L1034.0 1070.1 L1038.0 1076.9 L1042.0 1084.0 L1046.0 1090.3 L1050.0 1096.5 L1054.0 1102.3 L1058.0 1109.0 L1062.0 1114.9 L1066.0 1120.7 L1070.0 1126.0 L1074.0 1131.7 L1078.0 1136.6 L1082.0 1141.8 L1086.0 1147.1 L1090.0 1152.5 L1094.0 1158.3 L1098.0 1164.0 L1102.0 1168.9 L1106.0 1174.4 L1110.0 1179.8 L1114.0 1185.5 L1118.0 1190.5 L1122.0 1196.6 L1126.0 1203.1 L1130.0 1208.5 L1134.0 1215.1 L1138.0 1220.9 L1142.0 1226.5 L1146.0 1232.2 L1150.0 1237.8 L1154.0 1242.6 L1158.0 1248.7 L1162.0 1252.9 L1166.0 1257.6 L1170.0 1263.1 L1174.0 1267.0 L1178.0 1272.8 L1182.0 1277.5 L1186.0 1282.1 L1190.0 1287.6 L1194.0 1293.5 L1198.0 1297.5 L1202.0 1302.9 L1206.0 1307.8 L1210.0 1313.2 L1214.0 1317.6 L1218.0 1323.2 L1222.0 1327.4 L1226.0 1332.9 L1230.0 1336.6 L1234.0 1341.3 L1238.0 1345.6 L1242.0 1350.1 L1246.0 1354.5 L1250.0 1359.1 L1254.0 1362.8 L1258.0 1366.5 L1262.0 1369.0 L1266.0 1372.4 L1270.0 1375.5 L1274.0 1377.4 L1278.0 1380.0 L1282.0 1382.6 L1286.0 1386.0 L1290.0 1388.0 L1294.0 1390.2 L1298.0 1392.4 L1302.0 1394.0 L1306.0 1396.3 L1310.0 1398.8 L1314.0 1400.2 L1318.0 1402.3 L1322.0 1404.5 L1326.0 1405.2 L1330.0 1407.1 L1334.0 1408.8 L1338.0 1409.9 L1342.0 1410.9 L1346.0 1411.8 L1350.0 1412.1 L1354.0 1412.3 L1358.0 1413.3 L1362.0 1414.4 L1366.0 1414.0 L1370.0 1414.7 L1374.0 1415.1 L1378.0 1416.5 L1382.0 1416.0 L1386.0 1416.6 L1390.0 1417.7 L1394.0 1418.3 L1398.0 1418.5 L1402.0 1419.4 L1406.0 1419.9 L1410.0 1420.0 L1414.0 1420.2 L1418.0 1421.4 L1422.0 1421.8 L1426.0 1422.7 L1430.0 1423.0 L1434.0 1422.7 L1438.0 1423.4 L1442.0 1424.1 L1446.0 1425.2 L1450.0 1425.3 L1454.0 1425.8 L1458.0 1426.4 L1462.0 1427.2 L1466.0 1428.2 L1470.0 1429.1 L1474.0 1430.0 L1478.0 1429.8 L1482.0 1431.1 L1486.0 1432.4 L1490.0 1432.5 L1494.0 1433.0 L1498.0 1434.5 L1502.0 1435.7 L1506.0 1435.7 L1510.0 1436.8 L1514.0 1438.1 L1518.0 1439.3 L1522.0 1440.2 L1526.0 1441.3 L1530.0 1442.9 L1534.0 1444.8 L1538.0 1445.6 L1542.0 1446.4 L1546.0 1448.5 L1550.0 1448.9 L1554.0 1449.9 L1558.0 1451.1 L1562.0 1452.1 L1566.0 1454.4 L1570.0 1455.0 L1574.0 1456.7 L1578.0 1457.4 L1582.0 1457.9 L1586.0 1459.4 L1590.0 1460.6 L1594.0 1461.5 L1598.0 1462.5 L1602.0 1464.3 L1606.0 1465.6 L1610.0 1466.7 L1614.0 1466.9 L1618.0 1468.4 L1622.0 1468.9 L1626.0 1470.6 L1630.0 1471.6 L1634.0 1471.5 L1638.0 1472.6 L1642.0 1474.4 L1646.0 1475.4 L1650.0 1476.1 L1654.0 1476.0 L1658.0 1477.4 L1662.0 1478.4 L1666.0 1478.9 L1670.0 1479.6 L1674.0 1480.5 L1678.0 1480.3 L1682.0 1481.5 L1686.0 1482.5 L1690.0 1482.4 L1694.0 1482.6 L1698.0 1482.7 L1702.0 1484.0 L1706.0 1484.0 L1710.0 1484.6 L1714.0 1484.9 L1718.0 1484.9 L1722.0 1485.3 L1726.0 1485.6 L1730.0 1485.8 L1734.0 1485.7 L1738.0 1486.3 L1742.0 1486.7 L1746.0 1486.4 L1750.0 1487.4 L1754.0 1487.5 L1758.0 1487.5 L1762.0 1487.9 L1766.0 1488.8 L1770.0 1488.1 L1774.0 1488.4 L1778.0 1489.2 L1782.0 1489.1 L1786.0 1490.3 L1790.0 1490.6 L1794.0 1490.3 L1798.0 1490.6 L1802.0 1491.3 L1806.0 1491.8 L1810.0 1491.9 L1814.0 1492.5 L1818.0 1492.1 L1822.0 1492.6 L1826.0 1493.1 L1830.0 1493.5 L1834.0 1493.4 L1838.0 1493.6 L1842.0 1494.5 L1846.0 1494.6 L1850.0 1494.8 L1854.0 1494.7 L1858.0 1495.2 L1862.0 1495.1 L1866.0 1495.6 L1870.0 1495.8 L1874.0 1496.3 L1878.0 1497.1 L1882.0 1497.3 L1886.0 1498.0 L1890.0 1498.0 L1894.0 1498.1 L1898.0 1498.5 L1902.0 1499.4 L1906.0 1498.8 L1910.0 1499.4 L1914.0 1500.1 L1918.0 1500.1 L1922.0 1500.8 L1926.0 1500.9 L1930.0 1501.9 L1934.0 1502.6 L1938.0 1502.4 L1942.0 1503.3 L1946.0 1502.7 L1950.0 1503.3 L1954.0 1503.7 L1958.0 1504.8 L1962.0 1504.6 L1966.0 1505.3 L1970.0 1506.0 L1974.0 1506.0 L1978.0 1506.1 L1982.0 1506.6 L1986.0 1507.1 L1990.0 1507.4 L1994.0 1507.7 L1998.0 1507.5 L2002.0 1508.9 L2006.0 1508.9 L2010.0 1509.4 L2014.0 1509.6 L2018.0 1509.2 L2022.0 1509.8 L2026.0 1510.3 L2030.0 1510.0 L2034.0 1511.1 L2038.0 1510.9 L2042.0 1511.2 L2046.0 1511.9 L2050.0 1511.3 L2054.0 1511.5 L2058.0 1512.0 L2062.0 1511.6 L2066.0 1511.9 L2070.0 1512.0 L2074.0 1513.0 L2078.0 1512.7 L2082.0 1513.0 L2086.0 1512.9 L2090.0 1512.6 L2094.0 1512.7 L2098.0 1513.4 L2102.0 1513.1 L2106.0 1513.1 L2110.0 1513.0 L2114.0 1513.6 L2118.0 1512.8 L2122.0 1513.6 L2126.0 1513.4 L2130.0 1513.4 L2134.0 1513.7 L2138.0 1513.1 L2142.0 1513.2 L2146.0 1513.0 L2150.0 1513.3 L2154.0 1513.5 L2158.0 1513.4 L2162.0 1512.7 L2166.0 1513.3 L2170.0 1512.4 L2174.0 1513.1 L2178.0 1512.4 L2182.0 1512.6 L2186.0 1512.8 L2190.0 1512.2 L2194.0 1512.9 L2198.0 1512.7 L2202.0 1512.8 L2206.0 1512.3 L2210.0 1512.6 L2214.0 1512.4 L2218.0 1512.0 L2222.0 1512.0 L2226.0 1511.4 L2230.0 1511.7 L2234.0 1511.1 L2238.0 1510.8 L2242.0 1511.1 L2246.0 1511.3 L2250.0 1510.5 L2254.0 1509.9 L2258.0 1510.2 L2262.0 1509.4 L2266.0 1509.6 L2270.0 1509.4 L2274.0 1508.4 L2278.0 1508.2 L2282.0 1508.0 L2286.0 1507.9 L2290.0 1507.5 L2294.0 1507.4 L2298.0 1506.6 L2302.0 1506.6 L2306.0 1505.3 L2310.0 1504.9 L2314.0 1505.3 L2318.0 1504.6 L2322.0 1503.7 L2326.0 1502.9 L2330.0 1502.6 L2334.0 1502.4 L2338.0 1501.4 L2342.0 1501.7 L2346.0 1501.6 L2350.0 1500.5 L2354.0 1500.0 L2356.0 1500.0" fill="none" stroke="#d93d44" stroke-width="7.5" stroke-linejoin="round" stroke-linecap="butt" />
<path d="M178.0 529.5 L182.0 493.6 L186.0 524.8 L190.0 534.7 L194.0 506.1 L198.0 530.2 L202.0 516.2 L206.0 513.1 L210.0 519.7 L214.0 527.3 L218.0 503.0 L222.0 511.6 L226.0 501.5 L230.0 496.0 L234.0 501.1 L238.0 499.7 L242.0 500.8 L246.0 508.7 L250.0 509.0 L254.0 495.8 L258.0 509.6 L262.0 502.6 L266.0 508.6 L270.0 505.9 L274.0 500.8 L278.0 496.1 L282.0 507.3 L286.0 508.2 L290.0 501.8 L294.0 493.4 L298.0 504.5 L302.0 503.4 L306.0 504.9 L310.0 506.2 L314.0 506.0 L318.0 502.1 L322.0 496.6 L326.0 498.6 L330.0 498.1 L334.0 501.9 L338.0 499.9 L342.0 502.9 L346.0 498.3 L350.0 499.5 L354.0 505.1 L358.0 502.7 L362.0 504.8 L366.0 501.6 L370.0 493.5 L374.0 498.0 L378.0 496.5 L382.0 496.4 L386.0 494.9 L390.0 495.1 L394.0 500.8 L398.0 505.5 L402.0 507.1 L406.0 509.1 L410.0 504.5 L414.0 497.5 L418.0 500.8 L422.0 499.8 L426.0 511.7 L430.0 505.2 L434.0 511.6 L438.0 508.8 L442.0 511.5 L446.0 515.8 L450.0 514.0 L454.0 507.2 L458.0 515.2 L462.0 512.1 L466.0 520.5 L470.0 512.1 L474.0 512.1 L478.0 520.9 L482.0 514.9 L486.0 511.1 L490.0 520.1 L494.0 521.8 L498.0 516.8 L502.0 513.0 L506.0 521.5 L510.0 515.4 L514.0 514.4 L518.0 512.1 L522.0 521.9 L526.0 514.5 L530.0 513.2 L534.0 515.9 L538.0 519.7 L542.0 523.0 L546.0 514.1 L550.0 518.5 L554.0 514.5 L558.0 520.9 L562.0 516.5 L566.0 518.3 L570.0 519.6 L574.0 515.9 L578.0 514.7 L582.0 509.3 L586.0 510.5 L590.0 515.4 L594.0 515.4 L598.0 512.9 L602.0 506.9 L606.0 513.4 L610.0 513.8 L614.0 513.3 L618.0 511.8 L622.0 510.4 L626.0 507.0 L630.0 506.9 L634.0 505.0 L638.0 509.5 L642.0 506.8 L646.0 511.7 L650.0 506.9 L654.0 508.2 L658.0 508.0 L662.0 511.2 L666.0 517.3 L670.0 519.2 L674.0 521.4 L678.0 515.1 L682.0 522.2 L686.0 522.7 L690.0 522.4 L694.0 529.0 L698.0 528.4 L702.0 527.0 L706.0 533.0 L710.0 531.5 L714.0 533.7 L718.0 535.6 L722.0 537.8 L726.0 539.4 L730.0 542.8 L734.0 544.8 L738.0 547.7 L742.0 550.6 L746.0 554.7 L750.0 558.3 L754.0 563.2 L758.0 569.4 L762.0 578.8 L766.0 588.6 L770.0 597.4 L774.0 603.5 L778.0 609.4 L782.0 614.9 L786.0 619.8 L790.0 624.1 L794.0 628.3 L798.0 633.2 L802.0 638.7 L806.0 643.4 L810.0 648.2 L814.0 653.2 L818.0 659.1 L822.0 664.8 L826.0 670.5 L830.0 677.0 L834.0 682.8 L838.0 688.5 L842.0 695.6 L846.0 702.1 L850.0 707.9 L854.0 715.0 L858.0 722.3 L862.0 728.6 L866.0 735.5 L870.0 742.1 L874.0 749.0 L878.0 756.6 L882.0 762.6 L886.0 769.8 L890.0 776.3 L894.0 783.7 L898.0 790.8 L902.0 797.8 L906.0 805.0 L910.0 811.0 L914.0 817.8 L918.0 824.8 L922.0 831.7 L926.0 839.3 L930.0 845.4 L934.0 852.6 L938.0 860.1 L942.0 866.2 L946.0 873.0 L950.0 879.6 L954.0 886.1 L958.0 892.4 L962.0 899.4 L966.0 904.4 L970.0 910.5 L974.0 917.1 L978.0 922.7 L982.0 927.8 L986.0 933.4 L990.0 938.8 L994.0 944.0 L998.0 949.8 L1002.0 955.3 L1006.0 961.3 L1010.0 966.9 L1014.0 973.2 L1018.0 978.7 L1022.0 986.0 L1026.0 991.2 L1030.0 998.1 L1034.0 1004.4 L1038.0 1010.5 L1042.0 1018.0 L1046.0 1023.8 L1050.0 1030.0 L1054.0 1036.6 L1058.0 1042.9 L1062.0 1049.7 L1066.0 1056.6 L1070.0 1062.8 L1074.0 1068.2 L1078.0 1075.0 L1082.0 1080.9 L1086.0 1087.3 L1090.0 1092.6 L1094.0 1098.5 L1098.0 1104.5 L1102.0 1111.4 L1106.0 1116.2 L1110.0 1122.0 L1114.0 1128.3 L1118.0 1133.6 L1122.0 1139.5 L1126.0 1146.2 L1130.0 1151.2 L1134.0 1157.7 L1138.0 1163.7 L1142.0 1169.2 L1146.0 1175.1 L1150.0 1180.7 L1154.0 1186.9 L1158.0 1193.2 L1162.0 1199.5 L1166.0 1206.0 L1170.0 1212.9 L1174.0 1220.8 L1178.0 1227.6 L1182.0 1234.3 L1186.0 1240.5 L1190.0 1246.4 L1194.0 1251.3 L1198.0 1256.3 L1202.0 1261.1 L1206.0 1265.1 L1210.0 1269.9 L1214.0 1273.4 L1218.0 1278.0 L1222.0 1281.9 L1226.0 1285.5 L1230.0 1288.8 L1234.0 1292.9 L1238.0 1295.4 L1242.0 1298.4 L1246.0 1300.9 L1250.0 1304.4 L1254.0 1306.9 L1258.0 1308.6 L1262.0 1311.1 L1266.0 1313.3 L1270.0 1315.3 L1274.0 1318.2 L1278.0 1320.0 L1282.0 1322.3 L1286.0 1323.9 L1290.0 1325.2 L1294.0 1327.4 L1298.0 1328.1 L1302.0 1330.1 L1306.0 1331.2 L1310.0 1331.8 L1314.0 1333.1 L1318.0 1334.3 L1322.0 1334.8 L1326.0 1335.6 L1330.0 1337.0 L1334.0 1338.2 L1338.0 1338.5 L1342.0 1339.7 L1346.0 1339.7 L1350.0 1339.9 L1354.0 1340.6 L1358.0 1341.6 L1362.0 1342.8 L1366.0 1343.4 L1370.0 1344.2 L1374.0 1344.3 L1378.0 1345.1 L1382.0 1345.4 L1386.0 1345.5 L1390.0 1346.5 L1394.0 1346.8 L1398.0 1348.1 L1402.0 1348.8 L1406.0 1348.9 L1410.0 1349.6 L1414.0 1350.5 L1418.0 1351.0 L1422.0 1352.1 L1426.0 1353.9 L1430.0 1354.7 L1434.0 1355.1 L1438.0 1356.7 L1442.0 1357.0 L1446.0 1359.3 L1450.0 1360.1 L1454.0 1361.7 L1458.0 1363.0 L1462.0 1364.5 L1466.0 1367.1 L1470.0 1369.3 L1474.0 1371.5 L1478.0 1373.8 L1482.0 1376.2 L1486.0 1377.3 L1490.0 1380.2 L1494.0 1381.7 L1498.0 1384.9 L1502.0 1386.8 L1506.0 1388.5 L1510.0 1391.3 L1514.0 1394.1 L1518.0 1396.4 L1522.0 1398.5 L1526.0 1400.0 L1530.0 1402.2 L1534.0 1404.1 L1538.0 1405.8 L1542.0 1408.1 L1546.0 1409.2 L1550.0 1411.2 L1554.0 1413.5 L1558.0 1415.5 L1562.0 1417.6 L1566.0 1418.3 L1570.0 1421.2 L1574.0 1422.2 L1578.0 1424.1 L1582.0 1426.2 L1586.0 1428.4 L1590.0 1429.2 L1594.0 1431.2 L1598.0 1433.6 L1602.0 1435.3 L1606.0 1436.5 L1610.0 1438.0 L1614.0 1440.4 L1618.0 1441.3 L1622.0 1443.1 L1626.0 1444.3 L1630.0 1446.1 L1634.0 1447.8 L1638.0 1449.3 L1642.0 1451.0 L1646.0 1452.1 L1650.0 1452.9 L1654.0 1454.2 L1658.0 1455.2 L1662.0 1456.2 L1666.0 1457.3 L1670.0 1459.3 L1674.0 1460.1 L1678.0 1461.1 L1682.0 1461.9 L1686.0 1462.2 L1690.0 1463.6 L1694.0 1464.2 L1698.0 1465.3 L1702.0 1465.8 L1706.0 1466.6 L1710.0 1466.7 L1714.0 1468.2 L1718.0 1468.7 L1722.0 1469.1 L1726.0 1469.3 L1730.0 1470.3 L1734.0 1470.5 L1738.0 1470.7 L1742.0 1471.8 L1746.0 1472.2 L1750.0 1472.7 L1754.0 1473.4 L1758.0 1473.0 L1762.0 1473.6 L1766.0 1473.3 L1770.0 1474.2 L1774.0 1474.7 L1778.0 1474.4 L1782.0 1474.1 L1786.0 1475.1 L1790.0 1474.9 L1794.0 1474.8 L1798.0 1475.8 L1802.0 1475.7 L1806.0 1476.2 L1810.0 1476.7 L1814.0 1476.9 L1818.0 1477.8 L1822.0 1477.9 L1826.0 1478.5 L1830.0 1479.5 L1834.0 1480.6 L1838.0 1480.8 L1842.0 1481.5 L1846.0 1482.4 L1850.0 1483.3 L1854.0 1483.8 L1858.0 1485.0 L1862.0 1485.9 L1866.0 1487.1 L1870.0 1486.8 L1874.0 1487.7 L1878.0 1488.2 L1882.0 1489.2 L1886.0 1490.4 L1890.0 1490.2 L1894.0 1491.2 L1898.0 1491.7 L1902.0 1492.8 L1906.0 1493.0 L1910.0 1494.2 L1914.0 1494.6 L1918.0 1495.2 L1922.0 1495.6 L1926.0 1495.4 L1930.0 1496.0 L1934.0 1497.6 L1938.0 1497.2 L1942.0 1497.7 L1946.0 1498.9 L1950.0 1499.4 L1954.0 1499.5 L1958.0 1500.4 L1962.0 1501.0 L1966.0 1501.6 L1970.0 1502.1 L1974.0 1502.4 L1978.0 1503.7 L1982.0 1503.9 L1986.0 1505.2 L1990.0 1506.1 L1994.0 1505.7 L1998.0 1507.3 L2002.0 1508.1 L2006.0 1508.3 L2010.0 1509.3 L2014.0 1509.7 L2018.0 1511.0 L2022.0 1511.0 L2026.0 1511.9 L2030.0 1511.9 L2034.0 1513.0 L2038.0 1512.7 L2042.0 1513.8 L2046.0 1513.2 L2050.0 1513.8 L2054.0 1514.4 L2058.0 1514.2 L2062.0 1514.9 L2066.0 1514.3 L2070.0 1515.5 L2074.0 1515.1 L2078.0 1515.7 L2082.0 1515.0 L2086.0 1515.4 L2090.0 1515.6 L2094.0 1516.3 L2098.0 1516.5 L2102.0 1515.9 L2106.0 1516.0 L2110.0 1516.1 L2114.0 1515.9 L2118.0 1516.1 L2122.0 1516.9 L2126.0 1516.3 L2130.0 1517.3 L2134.0 1517.0 L2138.0 1516.8 L2142.0 1517.2 L2146.0 1517.1 L2150.0 1517.9 L2154.0 1517.7 L2158.0 1518.3 L2162.0 1518.3 L2166.0 1518.7 L2170.0 1518.3 L2174.0 1519.2 L2178.0 1518.7 L2182.0 1519.0 L2186.0 1519.7 L2190.0 1519.7 L2194.0 1519.1 L2198.0 1518.9 L2202.0 1518.8 L2206.0 1518.7 L2210.0 1518.8 L2214.0 1517.7 L2218.0 1517.0 L2222.0 1517.3 L2226.0 1516.7 L2230.0 1516.4 L2234.0 1516.0 L2238.0 1515.1 L2242.0 1514.9 L2246.0 1515.0 L2250.0 1514.2 L2254.0 1513.8 L2258.0 1513.2 L2262.0 1512.4 L2266.0 1511.7 L2270.0 1511.7 L2274.0 1510.7 L2278.0 1510.7 L2282.0 1510.6 L2286.0 1509.0 L2290.0 1509.4 L2294.0 1508.6 L2298.0 1508.5 L2302.0 1507.2 L2306.0 1506.7 L2310.0 1506.0 L2314.0 1506.1 L2318.0 1504.7 L2322.0 1504.3 L2326.0 1503.9 L2330.0 1504.1 L2334.0 1503.5 L2338.0 1502.6 L2342.0 1502.1 L2346.0 1501.1 L2350.0 1501.0 L2354.0 1500.8 L2356.0 1500.0" fill="none" stroke="#2c6bd3" stroke-width="7.5" stroke-linejoin="round" stroke-linecap="butt" />
<path d="M178.0 416.1 L182.0 540.7 L186.0 440.8 L190.0 498.3 L194.0 484.5 L198.0 440.9 L202.0 477.2 L206.0 475.1 L210.0 450.1 L214.0 478.3 L218.0 457.3 L222.0 459.9 L226.0 465.5 L230.0 465.9 L234.0 466.8 L238.0 454.8 L242.0 459.6 L246.0 451.6 L250.0 454.6 L254.0 459.2 L258.0 450.4 L262.0 456.0 L266.0 465.2 L270.0 452.5 L274.0 457.5 L278.0 449.8 L282.0 463.2 L286.0 451.2 L290.0 452.8 L294.0 463.2 L298.0 457.8 L302.0 459.9 L306.0 461.0 L310.0 459.2 L314.0 458.2 L318.0 453.7 L322.0 453.9 L326.0 455.4 L330.0 456.7 L334.0 458.5 L338.0 469.0 L342.0 457.9 L346.0 457.2 L350.0 460.3 L354.0 458.8 L358.0 471.5 L362.0 474.4 L366.0 472.3 L370.0 476.6 L374.0 471.4 L378.0 471.5 L382.0 472.3 L386.0 478.6 L390.0 473.6 L394.0 479.8 L398.0 478.9 L402.0 484.7 L406.0 488.9 L410.0 486.3 L414.0 478.8 L418.0 486.7 L422.0 489.6 L426.0 487.1 L430.0 480.4 L434.0 481.5 L438.0 489.1 L442.0 492.5 L446.0 489.8 L450.0 494.3 L454.0 492.4 L458.0 497.5 L462.0 489.4 L466.0 499.8 L470.0 499.7 L474.0 491.7 L478.0 494.9 L482.0 497.4 L486.0 506.3 L490.0 505.8 L494.0 499.2 L498.0 510.6 L502.0 506.2 L506.0 516.0 L510.0 509.5 L514.0 508.8 L518.0 513.9 L522.0 517.6 L526.0 519.0 L530.0 522.3 L534.0 518.1 L538.0 522.2 L542.0 520.8 L546.0 535.4 L550.0 530.1 L554.0 529.0 L558.0 528.8 L562.0 535.9 L566.0 529.1 L570.0 532.0 L574.0 539.6 L578.0 538.2 L582.0 540.9 L586.0 543.0 L590.0 536.5 L594.0 542.5 L598.0 543.6 L602.0 544.5 L606.0 541.4 L610.0 544.9 L614.0 536.3 L618.0 538.9 L622.0 544.3 L626.0 544.6 L630.0 545.9 L634.0 544.2 L638.0 540.5 L642.0 544.6 L646.0 544.1 L650.0 550.6 L654.0 546.7 L658.0 554.1 L662.0 553.1 L666.0 553.1 L670.0 557.9 L674.0 563.3 L678.0 559.5 L682.0 559.1 L686.0 571.1 L690.0 567.6 L694.0 577.2 L698.0 575.4 L702.0 577.4 L706.0 585.0 L710.0 580.0 L714.0 591.3 L718.0 588.2 L722.0 597.1 L726.0 602.8 L730.0 605.7 L734.0 604.8 L738.0 616.0 L742.0 616.2 L746.0 618.8 L750.0 624.7 L754.0 627.4 L758.0 639.0 L762.0 644.6 L766.0 652.5 L770.0 660.6 L774.0 666.9 L778.0 672.6 L782.0 679.1 L786.0 684.2 L790.0 690.6 L794.0 696.4 L798.0 702.3 L802.0 708.7 L806.0 714.2 L810.0 720.7 L814.0 726.7 L818.0 732.8 L822.0 738.9 L826.0 745.2 L830.0 752.2 L834.0 758.7 L838.0 764.6 L842.0 771.2 L846.0 776.9 L850.0 783.9 L854.0 791.1 L858.0 798.3 L862.0 804.4 L866.0 813.1 L870.0 820.7 L874.0 828.0 L878.0 836.6 L882.0 845.8 L886.0 853.7 L890.0 862.1 L894.0 871.2 L898.0 879.4 L902.0 887.7 L906.0 894.5 L910.0 902.2 L914.0 908.5 L918.0 915.9 L922.0 922.0 L926.0 927.9 L930.0 932.7 L934.0 938.2 L938.0 944.4 L942.0 949.2 L946.0 954.9 L950.0 959.8 L954.0 964.2 L958.0 969.4 L962.0 975.3 L966.0 979.8 L970.0 985.0 L974.0 990.2 L978.0 994.4 L982.0 999.2 L986.0 1004.4 L990.0 1008.6 L994.0 1013.6 L998.0 1018.4 L1002.0 1022.7 L1006.0 1027.4 L1010.0 1032.9 L1014.0 1037.6 L1018.0 1042.2 L1022.0 1046.9 L1026.0 1052.3 L1030.0 1056.5 L1034.0 1060.9 L1038.0 1066.1 L1042.0 1070.9 L1046.0 1075.7 L1050.0 1080.3 L1054.0 1085.2 L1058.0 1089.5 L1062.0 1095.0 L1066.0 1100.1 L1070.0 1104.7 L1074.0 1109.6 L1078.0 1114.5 L1082.0 1118.7 L1086.0 1123.4 L1090.0 1128.6 L1094.0 1132.8 L1098.0 1137.7 L1102.0 1142.8 L1106.0 1147.0 L1110.0 1153.0 L1114.0 1157.7 L1118.0 1162.2 L1122.0 1167.2 L1126.0 1171.9 L1130.0 1177.1 L1134.0 1181.7 L1138.0 1187.0 L1142.0 1191.8 L1146.0 1197.0 L1150.0 1202.1 L1154.0 1207.2 L1158.0 1210.8 L1162.0 1215.4 L1166.0 1220.4 L1170.0 1225.1 L1174.0 1229.0 L1178.0 1233.1 L1182.0 1237.7 L1186.0 1241.0 L1190.0 1244.7 L1194.0 1249.2 L1198.0 1253.1 L1202.0 1256.2 L1206.0 1260.5 L1210.0 1263.8 L1214.0 1267.4 L1218.0 1269.9 L1222.0 1272.7 L1226.0 1275.8 L1230.0 1278.7 L1234.0 1281.5 L1238.0 1284.5 L1242.0 1286.5 L1246.0 1289.7 L1250.0 1290.9 L1254.0 1293.9 L1258.0 1295.0 L1262.0 1297.6 L1266.0 1298.4 L1270.0 1300.1 L1274.0 1301.0 L1278.0 1302.6 L1282.0 1303.4 L1286.0 1304.3 L1290.0 1304.6 L1294.0 1304.9 L1298.0 1305.7 L1302.0 1306.8 L1306.0 1306.9 L1310.0 1307.0 L1314.0 1307.4 L1318.0 1308.4 L1322.0 1309.3 L1326.0 1309.4 L1330.0 1309.7 L1334.0 1309.0 L1338.0 1309.5 L1342.0 1309.5 L1346.0 1309.5 L1350.0 1310.5 L1354.0 1310.5 L1358.0 1310.0 L1362.0 1310.9 L1366.0 1310.0 L1370.0 1310.8 L1374.0 1310.4 L1378.0 1310.4 L1382.0 1311.1 L1386.0 1310.9 L1390.0 1310.8 L1394.0 1310.8 L1398.0 1310.8 L1402.0 1311.1 L1406.0 1311.1 L1410.0 1310.8 L1414.0 1311.2 L1418.0 1311.2 L1422.0 1311.2 L1426.0 1311.3 L1430.0 1312.5 L1434.0 1312.3 L1438.0 1312.9 L1442.0 1313.0 L1446.0 1313.9 L1450.0 1315.1 L1454.0 1315.8 L1458.0 1316.7 L1462.0 1317.8 L1466.0 1318.4 L1470.0 1319.7 L1474.0 1321.5 L1478.0 1323.8 L1482.0 1326.1 L1486.0 1328.2 L1490.0 1330.1 L1494.0 1332.3 L1498.0 1333.8 L1502.0 1335.8 L1506.0 1338.9 L1510.0 1340.6 L1514.0 1343.4 L1518.0 1346.2 L1522.0 1347.7 L1526.0 1351.2 L1530.0 1353.4 L1534.0 1356.4 L1538.0 1359.0 L1542.0 1362.3 L1546.0 1364.9 L1550.0 1367.9 L1554.0 1370.4 L1558.0 1373.1 L1562.0 1375.7 L1566.0 1377.9 L1570.0 1380.5 L1574.0 1383.1 L1578.0 1385.1 L1582.0 1387.6 L1586.0 1390.4 L1590.0 1393.1 L1594.0 1395.1 L1598.0 1398.3 L1602.0 1400.3 L1606.0 1402.8 L1610.0 1405.6 L1614.0 1407.7 L1618.0 1409.3 L1622.0 1411.5 L1626.0 1412.9 L1630.0 1414.8 L1634.0 1417.2 L1638.0 1418.4 L1642.0 1420.9 L1646.0 1421.8 L1650.0 1423.6 L1654.0 1425.8 L1658.0 1426.5 L1662.0 1428.7 L1666.0 1429.2 L1670.0 1431.1 L1674.0 1432.3 L1678.0 1433.4 L1682.0 1434.6 L1686.0 1436.4 L1690.0 1436.7 L1694.0 1437.6 L1698.0 1438.8 L1702.0 1439.6 L1706.0 1440.4 L1710.0 1441.3 L1714.0 1442.1 L1718.0 1442.5 L1722.0 1443.5 L1726.0 1444.2 L1730.0 1445.2 L1734.0 1445.2 L1738.0 1445.7 L1742.0 1446.6 L1746.0 1447.8 L1750.0 1448.0 L1754.0 1448.5 L1758.0 1449.3 L1762.0 1449.3 L1766.0 1450.0 L1770.0 1451.3 L1774.0 1451.3 L1778.0 1452.0 L1782.0 1451.9 L1786.0 1452.4 L1790.0 1453.9 L1794.0 1453.4 L1798.0 1454.7 L1802.0 1454.4 L1806.0 1455.4 L1810.0 1455.6 L1814.0 1455.7 L1818.0 1456.4 L1822.0 1457.4 L1826.0 1457.4 L1830.0 1458.0 L1834.0 1457.6 L1838.0 1459.2 L1842.0 1459.2 L1846.0 1460.0 L1850.0 1460.6 L1854.0 1461.1 L1858.0 1462.0 L1862.0 1463.5 L1866.0 1464.9 L1870.0 1465.6 L1874.0 1467.0 L1878.0 1467.6 L1882.0 1468.4 L1886.0 1469.8 L1890.0 1470.5 L1894.0 1471.6 L1898.0 1472.9 L1902.0 1474.6 L1906.0 1476.3 L1910.0 1477.0 L1914.0 1478.2 L1918.0 1479.5 L1922.0 1480.1 L1926.0 1482.1 L1930.0 1483.6 L1934.0 1483.9 L1938.0 1486.3 L1942.0 1487.3 L1946.0 1488.6 L1950.0 1489.5 L1954.0 1491.7 L1958.0 1493.3 L1962.0 1495.2 L1966.0 1496.0 L1970.0 1497.8 L1974.0 1500.3 L1978.0 1502.0 L1982.0 1502.9 L1986.0 1504.7 L1990.0 1505.6 L1994.0 1507.8 L1998.0 1509.6 L2002.0 1510.1 L2006.0 1511.9 L2010.0 1514.1 L2014.0 1514.7 L2018.0 1516.9 L2022.0 1518.1 L2026.0 1519.7 L2030.0 1520.8 L2034.0 1522.7 L2038.0 1523.8 L2042.0 1524.9 L2046.0 1525.5 L2050.0 1527.4 L2054.0 1528.6 L2058.0 1528.9 L2062.0 1529.2 L2066.0 1530.3 L2070.0 1531.2 L2074.0 1532.2 L2078.0 1532.8 L2082.0 1532.8 L2086.0 1533.2 L2090.0 1533.9 L2094.0 1534.5 L2098.0 1534.7 L2102.0 1535.0 L2106.0 1535.0 L2110.0 1535.8 L2114.0 1535.5 L2118.0 1535.8 L2122.0 1535.9 L2126.0 1536.7 L2130.0 1536.2 L2134.0 1537.3 L2138.0 1536.8 L2142.0 1537.3 L2146.0 1537.0 L2150.0 1536.3 L2154.0 1537.1 L2158.0 1536.5 L2162.0 1536.3 L2166.0 1536.3 L2170.0 1536.0 L2174.0 1535.1 L2178.0 1534.8 L2182.0 1534.5 L2186.0 1533.5 L2190.0 1533.0 L2194.0 1532.8 L2198.0 1532.9 L2202.0 1532.4 L2206.0 1531.9 L2210.0 1531.3 L2214.0 1530.4 L2218.0 1529.1 L2222.0 1528.8 L2226.0 1528.3 L2230.0 1527.3 L2234.0 1526.6 L2238.0 1525.8 L2242.0 1525.0 L2246.0 1523.4 L2250.0 1522.8 L2254.0 1521.3 L2258.0 1521.2 L2262.0 1519.7 L2266.0 1519.2 L2270.0 1517.4 L2274.0 1516.7 L2278.0 1515.2 L2282.0 1515.2 L2286.0 1513.8 L2290.0 1512.7 L2294.0 1512.4 L2298.0 1511.5 L2302.0 1510.1 L2306.0 1509.4 L2310.0 1509.4 L2314.0 1507.7 L2318.0 1507.8 L2322.0 1506.6 L2326.0 1506.2 L2330.0 1505.4 L2334.0 1504.6 L2338.0 1503.2 L2342.0 1503.2 L2346.0 1501.5 L2350.0 1501.6 L2354.0 1500.8 L2356.0 1500.0" fill="none" stroke="#3aa86a" stroke-width="7.5" stroke-linejoin="round" stroke-linecap="butt" />
<path d="M178.0 452.4 L182.0 460.5 L186.0 467.8 L190.0 457.8 L194.0 452.0 L198.0 447.0 L202.0 442.6 L206.0 454.7 L210.0 449.4 L214.0 441.2 L218.0 444.8 L222.0 445.1 L226.0 446.5 L230.0 438.4 L234.0 438.0 L238.0 436.0 L242.0 439.6 L246.0 442.4 L250.0 440.3 L254.0 434.7 L258.0 437.9 L262.0 436.0 L266.0 437.0 L270.0 437.5 L274.0 427.9 L278.0 425.9 L282.0 425.1 L286.0 426.6 L290.0 430.7 L294.0 425.6 L298.0 429.1 L302.0 427.3 L306.0 426.0 L310.0 425.3 L314.0 428.1 L318.0 427.3 L322.0 425.1 L326.0 425.5 L330.0 424.1 L334.0 422.3 L338.0 425.2 L342.0 429.9 L346.0 431.2 L350.0 433.1 L354.0 434.4 L358.0 433.8 L362.0 435.4 L366.0 433.3 L370.0 433.6 L374.0 434.9 L378.0 433.0 L382.0 436.1 L386.0 437.9 L390.0 437.3 L394.0 439.3 L398.0 442.8 L402.0 446.8 L406.0 448.3 L410.0 449.6 L414.0 450.5 L418.0 454.6 L422.0 455.9 L426.0 459.3 L430.0 461.2 L434.0 456.2 L438.0 460.8 L442.0 465.3 L446.0 466.2 L450.0 469.4 L454.0 469.8 L458.0 473.7 L462.0 479.7 L466.0 481.0 L470.0 484.5 L474.0 486.5 L478.0 487.9 L482.0 488.6 L486.0 489.9 L490.0 490.6 L494.0 491.6 L498.0 489.2 L502.0 490.1 L506.0 491.3 L510.0 494.3 L514.0 496.6 L518.0 495.6 L522.0 495.1 L526.0 494.0 L530.0 495.1 L534.0 495.6 L538.0 496.9 L542.0 496.8 L546.0 499.8 L550.0 499.9 L554.0 504.1 L558.0 500.1 L562.0 500.2 L566.0 505.1 L570.0 505.5 L574.0 503.5 L578.0 503.9 L582.0 503.1 L586.0 503.6 L590.0 503.1 L594.0 502.4 L598.0 507.1 L602.0 506.6 L606.0 506.7 L610.0 503.2 L614.0 505.8 L618.0 503.1 L622.0 506.5 L626.0 503.5 L630.0 506.3 L634.0 504.4 L638.0 508.3 L642.0 508.0 L646.0 505.4 L650.0 507.3 L654.0 506.3 L658.0 503.4 L662.0 506.8 L666.0 507.8 L670.0 507.0 L674.0 511.2 L678.0 512.6 L682.0 514.9 L686.0 520.5 L690.0 523.4 L694.0 530.5 L698.0 534.6 L702.0 538.2 L706.0 543.1 L710.0 547.4 L714.0 552.5 L718.0 557.4 L722.0 562.4 L726.0 567.3 L730.0 571.6 L734.0 576.3 L738.0 581.8 L742.0 586.6 L746.0 592.1 L750.0 596.9 L754.0 603.1 L758.0 608.0 L762.0 614.3 L766.0 620.3 L770.0 627.1 L774.0 634.2 L778.0 641.7 L782.0 647.8 L786.0 655.9 L790.0 663.1 L794.0 671.8 L798.0 679.9 L802.0 688.4 L806.0 696.6 L810.0 704.2 L814.0 711.7 L818.0 720.1 L822.0 727.7 L826.0 735.4 L830.0 743.1 L834.0 751.9 L838.0 759.2 L842.0 766.6 L846.0 774.4 L850.0 782.0 L854.0 789.5 L858.0 797.7 L862.0 804.8 L866.0 812.0 L870.0 819.3 L874.0 826.6 L878.0 834.2 L882.0 841.5 L886.0 848.1 L890.0 855.5 L894.0 862.9 L898.0 869.3 L902.0 875.5 L906.0 881.4 L910.0 887.3 L914.0 892.5 L918.0 898.0 L922.0 902.7 L926.0 907.3 L930.0 911.8 L934.0 917.2 L938.0 921.3 L942.0 924.3 L946.0 928.7 L950.0 932.4 L954.0 936.6 L958.0 941.0 L962.0 944.7 L966.0 949.1 L970.0 952.9 L974.0 957.4 L978.0 961.0 L982.0 965.2 L986.0 969.3 L990.0 973.1 L994.0 977.3 L998.0 981.5 L1002.0 985.1 L1006.0 989.5 L1010.0 992.6 L1014.0 997.2 L1018.0 1001.3 L1022.0 1005.4 L1026.0 1009.0 L1030.0 1012.4 L1034.0 1016.8 L1038.0 1020.6 L1042.0 1024.2 L1046.0 1028.3 L1050.0 1031.6 L1054.0 1035.5 L1058.0 1039.7 L1062.0 1044.5 L1066.0 1047.5 L1070.0 1051.9 L1074.0 1056.6 L1078.0 1061.0 L1082.0 1064.6 L1086.0 1069.0 L1090.0 1073.6 L1094.0 1077.1 L1098.0 1080.9 L1102.0 1085.2 L1106.0 1089.6 L1110.0 1093.0 L1114.0 1097.0 L1118.0 1100.0 L1122.0 1104.5 L1126.0 1108.1 L1130.0 1111.5 L1134.0 1113.9 L1138.0 1118.2 L1142.0 1121.3 L1146.0 1123.7 L1150.0 1126.8 L1154.0 1129.5 L1158.0 1132.5 L1162.0 1135.6 L1166.0 1137.3 L1170.0 1140.5 L1174.0 1142.9 L1178.0 1144.3 L1182.0 1146.5 L1186.0 1149.3 L1190.0 1151.3 L1194.0 1152.5 L1198.0 1155.0 L1202.0 1156.4 L1206.0 1157.3 L1210.0 1159.7 L1214.0 1160.6 L1218.0 1162.2 L1222.0 1164.2 L1226.0 1164.5 L1230.0 1166.7 L1234.0 1167.2 L1238.0 1168.6 L1242.0 1169.2 L1246.0 1170.5 L1250.0 1170.9 L1254.0 1172.2 L1258.0 1172.8 L1262.0 1173.8 L1266.0 1173.7 L1270.0 1175.2 L1274.0 1175.2 L1278.0 1176.4 L1282.0 1176.5 L1286.0 1177.1 L1290.0 1177.2 L1294.0 1177.1 L1298.0 1178.5 L1302.0 1178.5 L1306.0 1179.0 L1310.0 1178.9 L1314.0 1178.8 L1318.0 1179.0 L1322.0 1179.6 L1326.0 1179.6 L1330.0 1179.4 L1334.0 1178.6 L1338.0 1178.5 L1342.0 1178.6 L1346.0 1178.3 L1350.0 1178.6 L1354.0 1179.2 L1358.0 1179.3 L1362.0 1179.8 L1366.0 1180.6 L1370.0 1181.3 L1374.0 1181.5 L1378.0 1182.8 L1382.0 1182.6 L1386.0 1183.7 L1390.0 1184.9 L1394.0 1186.9 L1398.0 1187.7 L1402.0 1189.7 L1406.0 1190.9 L1410.0 1193.2 L1414.0 1194.7 L1418.0 1196.5 L1422.0 1199.5 L1426.0 1202.0 L1430.0 1204.5 L1434.0 1206.6 L1438.0 1209.6 L1442.0 1212.2 L1446.0 1215.9 L1450.0 1218.7 L1454.0 1222.2 L1458.0 1225.8 L1462.0 1229.8 L1466.0 1232.9 L1470.0 1236.8 L1474.0 1241.5 L1478.0 1244.7 L1482.0 1248.9 L1486.0 1253.6 L1490.0 1257.8 L1494.0 1263.5 L1498.0 1267.6 L1502.0 1272.8 L1506.0 1276.7 L1510.0 1282.2 L1514.0 1287.7 L1518.0 1292.0 L1522.0 1298.2 L1526.0 1303.8 L1530.0 1309.1 L1534.0 1313.6 L1538.0 1319.4 L1542.0 1324.7 L1546.0 1329.9 L1550.0 1335.6 L1554.0 1340.2 L1558.0 1345.3 L1562.0 1351.4 L1566.0 1356.1 L1570.0 1361.4 L1574.0 1366.2 L1578.0 1371.3 L1582.0 1375.5 L1586.0 1380.3 L1590.0 1385.1 L1594.0 1390.2 L1598.0 1394.3 L1602.0 1399.8 L1606.0 1403.4 L1610.0 1408.5 L1614.0 1412.5 L1618.0 1415.7 L1622.0 1419.6 L1626.0 1423.5 L1630.0 1427.2 L1634.0 1429.7 L1638.0 1432.5 L1642.0 1435.2 L1646.0 1438.6 L1650.0 1440.3 L1654.0 1442.6 L1658.0 1445.6 L1662.0 1447.8 L1666.0 1449.1 L1670.0 1451.2 L1674.0 1452.2 L1678.0 1454.1 L1682.0 1455.1 L1686.0 1457.1 L1690.0 1458.2 L1694.0 1459.7 L1698.0 1461.5 L1702.0 1462.3 L1706.0 1463.4 L1710.0 1464.5 L1714.0 1466.4 L1718.0 1467.7 L1722.0 1469.1 L1726.0 1469.9 L1730.0 1471.0 L1734.0 1472.3 L1738.0 1473.5 L1742.0 1474.0 L1746.0 1475.0 L1750.0 1476.6 L1754.0 1476.7 L1758.0 1477.6 L1762.0 1478.7 L1766.0 1479.6 L1770.0 1480.0 L1774.0 1481.2 L1778.0 1481.0 L1782.0 1481.8 L1786.0 1482.8 L1790.0 1482.1 L1794.0 1482.2 L1798.0 1483.3 L1802.0 1483.5 L1806.0 1483.0 L1810.0 1483.2 L1814.0 1483.5 L1818.0 1484.4 L1822.0 1484.3 L1826.0 1485.4 L1830.0 1485.1 L1834.0 1485.9 L1838.0 1486.5 L1842.0 1486.3 L1846.0 1486.6 L1850.0 1487.2 L1854.0 1488.2 L1858.0 1489.3 L1862.0 1489.5 L1866.0 1489.9 L1870.0 1490.7 L1874.0 1491.7 L1878.0 1492.0 L1882.0 1493.7 L1886.0 1494.9 L1890.0 1495.8 L1894.0 1496.8 L1898.0 1499.1 L1902.0 1500.3 L1906.0 1502.6 L1910.0 1504.7 L1914.0 1506.2 L1918.0 1507.9 L1922.0 1510.2 L1926.0 1511.8 L1930.0 1514.5 L1934.0 1516.1 L1938.0 1517.2 L1942.0 1518.3 L1946.0 1519.7 L1950.0 1521.4 L1954.0 1522.5 L1958.0 1523.5 L1962.0 1523.5 L1966.0 1524.6 L1970.0 1525.8 L1974.0 1526.8 L1978.0 1526.7 L1982.0 1528.1 L1986.0 1529.1 L1990.0 1529.3 L1994.0 1530.4 L1998.0 1530.1 L2002.0 1531.5 L2006.0 1532.5 L2010.0 1533.0 L2014.0 1533.9 L2018.0 1534.1 L2022.0 1534.6 L2026.0 1535.6 L2030.0 1535.8 L2034.0 1536.0 L2038.0 1537.1 L2042.0 1537.5 L2046.0 1538.3 L2050.0 1539.2 L2054.0 1539.5 L2058.0 1539.9 L2062.0 1540.0 L2066.0 1541.2 L2070.0 1540.6 L2074.0 1541.3 L2078.0 1541.5 L2082.0 1542.3 L2086.0 1542.8 L2090.0 1543.9 L2094.0 1544.0 L2098.0 1543.8 L2102.0 1544.3 L2106.0 1544.7 L2110.0 1545.6 L2114.0 1545.3 L2118.0 1545.3 L2122.0 1545.6 L2126.0 1546.0 L2130.0 1546.5 L2134.0 1545.8 L2138.0 1546.4 L2142.0 1545.6 L2146.0 1546.0 L2150.0 1545.5 L2154.0 1545.6 L2158.0 1545.6 L2162.0 1544.4 L2166.0 1544.1 L2170.0 1543.9 L2174.0 1544.1 L2178.0 1543.7 L2182.0 1543.5 L2186.0 1542.6 L2190.0 1542.2 L2194.0 1541.8 L2198.0 1540.1 L2202.0 1539.8 L2206.0 1539.1 L2210.0 1538.4 L2214.0 1537.0 L2218.0 1536.6 L2222.0 1535.0 L2226.0 1533.6 L2230.0 1532.4 L2234.0 1531.7 L2238.0 1530.2 L2242.0 1529.8 L2246.0 1528.9 L2250.0 1526.8 L2254.0 1526.5 L2258.0 1525.8 L2262.0 1524.1 L2266.0 1522.9 L2270.0 1522.1 L2274.0 1521.7 L2278.0 1519.5 L2282.0 1518.5 L2286.0 1517.9 L2290.0 1516.6 L2294.0 1515.9 L2298.0 1515.2 L2302.0 1514.5 L2306.0 1513.2 L2310.0 1511.8 L2314.0 1511.3 L2318.0 1509.3 L2322.0 1509.1 L2326.0 1507.7 L2330.0 1506.2 L2334.0 1505.9 L2338.0 1504.9 L2342.0 1503.5 L2346.0 1503.2 L2350.0 1501.6 L2354.0 1500.3 L2356.0 1500.0" fill="none" stroke="#a97bd2" stroke-width="7.5" stroke-linejoin="round" stroke-linecap="butt" />
<path d="M182 172 L182 400" stroke="#d93d44" stroke-width="5" fill="none"/>
<path d="M182 392 L182 560" stroke="#3aa86a" stroke-width="5" fill="none"/>
<path d="M182 560 L182 615" stroke="#d2a11d" stroke-width="5" fill="none"/>
<path d="M182 664 L182 920" stroke="#1ec0c8" stroke-width="5" fill="none"/>
</g>
<rect x="173.5" y="27" width="2183" height="1574" fill="none" stroke="#000" stroke-width="12.5"/>
<rect x="350.6" y="1584" width="13" height="17" fill="#000"/>
<rect x="532.5" y="1569" width="13" height="32" fill="#000"/>
<rect x="714.4" y="1584" width="13" height="17" fill="#000"/>
<rect x="896.2" y="1569" width="13" height="32" fill="#000"/>
<rect x="1078.1" y="1584" width="13" height="17" fill="#000"/>
<rect x="1260.0" y="1569" width="13" height="32" fill="#000"/>
<rect x="1441.9" y="1584" width="13" height="17" fill="#000"/>
<rect x="1623.8" y="1569" width="13" height="32" fill="#000"/>
<rect x="1805.6" y="1584" width="13" height="17" fill="#000"/>
<rect x="1987.5" y="1569" width="13" height="32" fill="#000"/>
<rect x="2169.4" y="1584" width="13" height="17" fill="#000"/>
<g font-family="'Liberation Serif', 'Times New Roman', serif" font-weight="bold" fill="#000">
<text transform="translate(107.07 1695.00) scale(1.0600 1.0000)" font-size="80" letter-spacing="4.32">200</text>
<text transform="translate(470.82 1695.00) scale(1.0600 1.0000)" font-size="80" letter-spacing="4.32">300</text>
<text transform="translate(836.69 1695.00) scale(1.0600 1.0000)" font-size="80" letter-spacing="3.32">400</text>
<text transform="translate(1198.32 1695.00) scale(1.0600 1.0000)" font-size="80" letter-spacing="4.32">500</text>
<text transform="translate(1562.07 1695.00) scale(1.0600 1.0000)" font-size="80" letter-spacing="4.32">600</text>
<text transform="translate(1923.70 1695.00) scale(1.0600 1.0000)" font-size="80" letter-spacing="5.32">700</text>
<text transform="translate(2289.57 1695.00) scale(1.0600 1.0000)" font-size="80" letter-spacing="4.32">800</text>
<text transform="translate(40.93 129.02) scale(1.0167 0.9841)" font-size="132">a</text>
<text transform="translate(96.83 1069.74) rotate(-90) scale(0.9135 0.9561)" font-size="90">Intensity (a.u.)</text>
<text transform="translate(894.00 1831.92) scale(1.0027 0.9459)" font-size="82" letter-spacing="5.86">Wavenumber (nm)</text>
<rect x="1352" y="79.0" width="190" height="8" fill="#525252"/>
<text transform="translate(1585.88 110.00) scale(1.1240 1.0000)" font-size="80">Fe<tspan font-size="57.6" dy="23.2">2</tspan><tspan dy="-23.2">O</tspan><tspan font-size="57.6" dy="23.2">3</tspan><tspan dy="-23.2">/P</tspan><tspan font-size="57.6" dy="23.2">2</tspan><tspan dy="-23.2">Mo</tspan><tspan font-size="57.6" dy="23.2">18</tspan><tspan dy="-23.2"> -1%</tspan></text>
<rect x="1352" y="202.7" width="190" height="8" fill="#d44d4d"/>
<text transform="translate(1585.88 233.70) scale(1.1240 1.0000)" font-size="80">Fe<tspan font-size="57.6" dy="23.2">2</tspan><tspan dy="-23.2">O</tspan><tspan font-size="57.6" dy="23.2">3</tspan><tspan dy="-23.2">/P</tspan><tspan font-size="57.6" dy="23.2">2</tspan><tspan dy="-23.2">Mo</tspan><tspan font-size="57.6" dy="23.2">18</tspan><tspan dy="-23.2"> -3%</tspan></text>
<rect x="1352" y="326.4" width="190" height="8" fill="#316bb6"/>
<text transform="translate(1585.88 357.40) scale(1.1240 1.0000)" font-size="80">Fe<tspan font-size="57.6" dy="23.2">2</tspan><tspan dy="-23.2">O</tspan><tspan font-size="57.6" dy="23.2">3</tspan><tspan dy="-23.2">/P</tspan><tspan font-size="57.6" dy="23.2">2</tspan><tspan dy="-23.2">Mo</tspan><tspan font-size="57.6" dy="23.2">18</tspan><tspan dy="-23.2"> -5%</tspan></text>
<rect x="1352" y="450.1" width="190" height="8" fill="#4fa072"/>
<text transform="translate(1585.88 481.10) scale(1.1240 1.0000)" font-size="80">Fe<tspan font-size="57.6" dy="23.2">2</tspan><tspan dy="-23.2">O</tspan><tspan font-size="57.6" dy="23.2">3</tspan><tspan dy="-23.2">/P</tspan><tspan font-size="57.6" dy="23.2">2</tspan><tspan dy="-23.2">Mo</tspan><tspan font-size="57.6" dy="23.2">18</tspan><tspan dy="-23.2"> -8%</tspan></text>
<rect x="1352" y="573.8" width="190" height="8" fill="#a286b7"/>
<text transform="translate(1585.88 604.80) scale(1.1240 1.0000)" font-size="80">Fe<tspan font-size="57.6" dy="23.2">2</tspan><tspan dy="-23.2">O</tspan><tspan font-size="57.6" dy="23.2">3</tspan><tspan dy="-23.2">/P</tspan><tspan font-size="57.6" dy="23.2">2</tspan><tspan dy="-23.2">Mo</tspan><tspan font-size="57.6" dy="23.2">18</tspan><tspan dy="-23.2"> -10%</tspan></text>
<rect x="1352" y="697.5" width="190" height="8" fill="#b0964b"/>
<text transform="translate(1585.88 728.50) scale(1.1240 1.0000)" font-size="80">P<tspan font-size="57.6" dy="23.2">2</tspan><tspan dy="-23.2">Mo</tspan><tspan font-size="57.6" dy="23.2">18</tspan></text>
<rect x="1352" y="821.2" width="190" height="8" fill="#48adb0"/>
<text transform="translate(1585.88 852.20) scale(1.1240 1.0000)" font-size="80">Fe<tspan font-size="57.6" dy="23.2">2</tspan><tspan dy="-23.2">O</tspan><tspan font-size="57.6" dy="23.2">3</tspan></text>
</g>
<g clip-path="url(#clipb)">
<path d="M452.0 3412.6 L457.0 3411.4 L462.0 3409.6 L467.0 3408.5 L472.0 3407.5 L477.0 3406.1 L482.0 3404.4 L487.0 3403.2 L492.0 3401.4 L497.0 3400.4 L502.0 3398.5 L507.0 3396.1 L512.0 3394.6 L517.0 3393.0 L522.0 3391.8 L527.0 3390.3 L532.0 3389.6 L537.0 3388.0 L542.0 3387.0 L547.0 3385.8 L552.0 3384.6 L557.0 3383.0 L562.0 3381.8 L567.0 3379.3 L572.0 3376.6 L577.0 3375.5 L582.0 3373.4 L587.0 3372.6 L592.0 3370.9 L597.0 3369.6 L602.0 3368.5 L607.0 3367.1 L612.0 3365.5 L617.0 3363.6 L622.0 3361.7 L627.0 3360.4 L632.0 3358.4 L637.0 3356.8 L642.0 3354.7 L647.0 3351.8 L652.0 3349.9 L657.0 3348.1 L662.0 3345.7 L667.0 3344.1 L672.0 3341.1 L677.0 3340.3 L682.0 3338.9 L687.0 3337.0 L692.0 3334.5 L697.0 3332.1 L702.0 3330.3 L707.0 3327.9 L712.0 3326.0 L717.0 3323.3 L722.0 3320.6 L727.0 3318.3 L732.0 3315.6 L737.0 3312.2 L742.0 3309.2 L747.0 3306.2 L752.0 3303.4 L757.0 3300.3 L762.0 3298.1 L767.0 3296.1 L772.0 3293.1 L777.0 3290.5 L782.0 3287.6 L787.0 3283.5 L792.0 3280.8 L797.0 3277.0 L802.0 3272.9 L807.0 3269.5 L812.0 3266.0 L817.0 3262.3 L822.0 3258.9 L827.0 3254.6 L832.0 3251.2 L837.0 3247.0 L842.0 3243.7 L847.0 3239.9 L852.0 3235.0 L857.0 3231.4 L862.0 3226.3 L867.0 3222.1 L872.0 3218.4 L877.0 3214.2 L882.0 3210.7 L887.0 3208.3 L892.0 3207.4 L897.0 3206.1 L902.0 3205.4 L907.0 3204.1 L912.0 3203.3 L917.0 3202.8 L922.0 3200.8 L927.0 3199.5 L932.0 3196.8 L937.0 3194.3 L942.0 3192.2 L947.0 3189.1 L952.0 3187.4 L957.0 3184.8 L962.0 3182.7 L967.0 3181.0 L972.0 3179.0 L977.0 3178.2 L982.0 3175.8 L987.0 3175.2 L992.0 3173.3 L997.0 3171.9 L1002.0 3170.2 L1007.0 3168.5 L1012.0 3166.5 L1017.0 3164.9 L1022.0 3163.4 L1027.0 3161.1 L1032.0 3159.6 L1037.0 3157.5 L1042.0 3154.9 L1047.0 3152.9 L1052.0 3151.5 L1057.0 3149.2 L1062.0 3146.6 L1067.0 3144.9 L1072.0 3142.7 L1077.0 3140.6 L1082.0 3138.2 L1087.0 3136.4 L1092.0 3133.2 L1097.0 3131.8 L1102.0 3129.3 L1107.0 3126.6 L1112.0 3123.9 L1117.0 3121.6 L1122.0 3119.7 L1127.0 3117.2 L1132.0 3114.6 L1137.0 3111.7 L1142.0 3109.2 L1147.0 3107.1 L1152.0 3104.2 L1157.0 3101.8 L1162.0 3099.0 L1167.0 3096.7 L1172.0 3094.5 L1177.0 3092.1 L1182.0 3088.8 L1187.0 3086.5 L1192.0 3084.0 L1197.0 3081.3 L1202.0 3078.9 L1207.0 3075.8 L1212.0 3073.4 L1217.0 3070.9 L1222.0 3068.9 L1227.0 3065.7 L1232.0 3063.4 L1237.0 3060.8 L1242.0 3058.1 L1247.0 3055.2 L1252.0 3052.4 L1257.0 3050.0 L1262.0 3047.2 L1267.0 3044.5 L1272.0 3041.9 L1277.0 3038.9 L1282.0 3036.8 L1287.0 3033.9 L1292.0 3030.9 L1297.0 3028.5 L1302.0 3025.6 L1307.0 3023.4 L1312.0 3020.8 L1317.0 3018.6 L1322.0 3015.2 L1327.0 3013.0 L1332.0 3010.6 L1337.0 3007.5 L1342.0 3005.1 L1347.0 3002.7 L1352.0 2999.6 L1357.0 2997.5 L1362.0 2995.6 L1367.0 2993.1 L1372.0 2990.8 L1377.0 2987.7 L1382.0 2986.1 L1387.0 2984.0 L1392.0 2981.5 L1397.0 2979.3 L1402.0 2977.6 L1407.0 2975.2 L1412.0 2973.4 L1417.0 2970.5 L1422.0 2968.5 L1427.0 2965.7 L1432.0 2962.5 L1437.0 2959.9 L1442.0 2957.0 L1447.0 2953.5 L1452.0 2949.8 L1457.0 2946.2 L1462.0 2943.2 L1467.0 2939.8 L1472.0 2936.1 L1477.0 2932.3 L1482.0 2929.3 L1487.0 2926.1 L1492.0 2922.5 L1497.0 2919.6 L1502.0 2916.4 L1507.0 2913.6 L1512.0 2909.6 L1517.0 2907.5 L1522.0 2904.2 L1527.0 2900.5 L1532.0 2897.6 L1537.0 2894.7 L1542.0 2892.0 L1547.0 2889.0 L1552.0 2885.8 L1557.0 2883.3 L1562.0 2880.0 L1567.0 2877.1 L1572.0 2874.3 L1577.0 2871.5 L1582.0 2868.0 L1587.0 2865.0 L1592.0 2862.7 L1597.0 2860.3 L1602.0 2857.7 L1607.0 2854.7 L1612.0 2851.8 L1617.0 2849.7 L1622.0 2847.4 L1627.0 2844.8 L1632.0 2841.7 L1637.0 2838.9 L1642.0 2836.7 L1647.0 2833.6 L1652.0 2830.8 L1657.0 2828.0 L1662.0 2824.7 L1667.0 2820.8 L1672.0 2817.4 L1677.0 2813.3 L1682.0 2808.9 L1687.0 2805.4 L1692.0 2801.7 L1697.0 2799.1 L1702.0 2795.5 L1707.0 2792.7 L1712.0 2790.8 L1717.0 2788.7 L1722.0 2786.0 L1727.0 2784.0 L1732.0 2782.2 L1737.0 2780.2 L1742.0 2779.2 L1747.0 2777.0 L1752.0 2776.4 L1757.0 2774.8 L1762.0 2773.1 L1767.0 2772.2 L1772.0 2771.5 L1777.0 2770.0 L1782.0 2769.7 L1787.0 2769.1 L1792.0 2767.7 L1797.0 2767.0 L1802.0 2764.9 L1807.0 2763.1 L1812.0 2761.6 L1817.0 2760.6 L1822.0 2758.0 L1827.0 2756.0 L1832.0 2753.6 L1837.0 2751.5 L1842.0 2748.9 L1847.0 2746.2 L1852.0 2742.6 L1857.0 2739.3 L1862.0 2735.1 L1867.0 2731.6 L1872.0 2726.2 L1877.0 2720.2 L1882.0 2714.6 L1887.0 2708.8 L1892.0 2703.4 L1897.0 2698.1 L1902.0 2693.3 L1907.0 2688.9 L1912.0 2684.4 L1917.0 2681.5 L1922.0 2677.8 L1927.0 2675.3 L1932.0 2672.3 L1937.0 2670.2 L1942.0 2667.7 L1947.0 2666.2 L1952.0 2664.0 L1957.0 2662.6 L1962.0 2660.3 L1967.0 2659.1 L1972.0 2658.2 L1977.0 2657.3 L1982.0 2656.1 L1987.0 2656.0 L1992.0 2655.5 L1997.0 2655.3 L2002.0 2655.1 L2007.0 2654.6 L2012.0 2653.8 L2017.0 2654.3 L2022.0 2655.0 L2027.0 2656.1 L2032.0 2657.4 L2037.0 2656.0 L2042.0 2653.4 L2047.0 2650.0 L2052.0 2645.2 L2057.0 2641.3 L2062.0 2636.8 L2067.0 2632.0 L2072.0 2629.7 L2077.0 2626.6 L2082.0 2625.5 L2087.0 2624.7 L2092.0 2623.4 L2097.0 2623.3 L2102.0 2622.5 L2107.0 2621.5 L2112.0 2621.1 L2117.0 2619.3 L2122.0 2617.9 L2127.0 2616.0 L2132.0 2612.3 L2137.0 2608.9 L2142.0 2604.2 L2147.0 2599.3 L2152.0 2593.7 L2157.0 2588.5 L2162.0 2582.1 L2167.0 2576.5 L2172.0 2571.6 L2177.0 2566.2 L2182.0 2560.7 L2187.0 2555.9 L2192.0 2551.3 L2197.0 2547.5 L2202.0 2544.0 L2207.0 2540.6 L2212.0 2537.7 L2217.0 2535.7 L2222.0 2533.9 L2227.0 2531.3 L2232.0 2528.1 L2237.0 2524.9 L2242.0 2520.8 L2247.0 2515.2 L2252.0 2509.7 L2257.0 2503.2 L2262.0 2497.7 L2267.0 2491.5 L2272.0 2484.9 L2277.0 2478.3 L2282.0 2472.1 L2287.0 2465.7 L2292.0 2458.5 L2297.0 2450.9 L2302.0 2443.8 L2307.0 2436.8 L2312.0 2430.1 L2317.0 2422.5 L2322.0 2416.0 L2327.0 2408.1 L2332.0 2400.6 L2337.0 2393.4 L2342.0 2386.2 L2347.0 2380.5 L2352.0 2375.9 L2357.0 2375.0 L2362.0 2375.5 L2366.0 2376.0" fill="none" stroke="#68b4de" stroke-width="7" stroke-linejoin="round" stroke-linecap="butt" />
<path d="M454.0 3488.3 L459.0 3482.8 L464.0 3476.9 L469.0 3470.4 L474.0 3464.2 L479.0 3457.4 L484.0 3449.4 L489.0 3441.6 L494.0 3431.4 L499.0 3421.7 L504.0 3410.9 L509.0 3400.9 L514.0 3390.7 L519.0 3380.6 L524.0 3370.1 L529.0 3360.4 L534.0 3349.8 L539.0 3339.8 L544.0 3330.6 L549.0 3321.9 L554.0 3313.5 L559.0 3304.8 L564.0 3297.3 L569.0 3289.9 L574.0 3283.0 L579.0 3276.5 L584.0 3268.8 L589.0 3260.6 L594.0 3252.9 L599.0 3244.7 L604.0 3237.4 L609.0 3230.3 L614.0 3224.7 L619.0 3219.6 L624.0 3215.5 L629.0 3210.0 L634.0 3205.5 L639.0 3201.2 L644.0 3197.5 L649.0 3192.7 L654.0 3189.3 L659.0 3184.5 L664.0 3180.8 L669.0 3176.3 L674.0 3172.5 L679.0 3169.2 L684.0 3165.5 L689.0 3161.1 L694.0 3157.6 L699.0 3153.8 L704.0 3150.4 L709.0 3147.1 L714.0 3143.7 L719.0 3140.3 L724.0 3136.4 L729.0 3132.7 L734.0 3129.4 L739.0 3125.5 L744.0 3121.8 L749.0 3118.8 L754.0 3114.7 L759.0 3110.5 L764.0 3107.7 L769.0 3104.0 L774.0 3099.7 L779.0 3096.5 L784.0 3091.9 L789.0 3088.9 L794.0 3084.3 L799.0 3081.2 L804.0 3077.2 L809.0 3073.6 L814.0 3069.0 L819.0 3065.2 L824.0 3061.2 L829.0 3055.8 L834.0 3051.1 L839.0 3046.5 L844.0 3041.0 L849.0 3035.8 L854.0 3030.7 L859.0 3026.2 L864.0 3022.0 L869.0 3017.9 L874.0 3014.5 L879.0 3010.8 L884.0 3007.9 L889.0 3005.2 L894.0 3001.2 L899.0 2996.9 L904.0 2992.6 L909.0 2988.4 L914.0 2983.7 L919.0 2978.1 L924.0 2972.3 L929.0 2967.2 L934.0 2962.2 L939.0 2956.9 L944.0 2950.8 L949.0 2945.4 L954.0 2939.4 L959.0 2934.3 L964.0 2928.8 L969.0 2922.7 L974.0 2917.1 L979.0 2910.6 L984.0 2904.9 L989.0 2898.6 L994.0 2892.7 L999.0 2886.1 L1004.0 2880.5 L1009.0 2874.7 L1014.0 2868.6 L1019.0 2863.2 L1024.0 2857.1 L1029.0 2852.0 L1034.0 2847.2 L1039.0 2841.5 L1044.0 2836.1 L1049.0 2831.2 L1054.0 2825.9 L1059.0 2820.6 L1064.0 2815.5 L1069.0 2811.0 L1074.0 2805.8 L1079.0 2801.0 L1084.0 2796.3 L1089.0 2791.5 L1094.0 2787.4 L1099.0 2783.6 L1104.0 2779.6 L1109.0 2775.8 L1114.0 2771.4 L1119.0 2767.2 L1124.0 2763.1 L1129.0 2758.3 L1134.0 2754.4 L1139.0 2749.0 L1144.0 2743.5 L1149.0 2738.3 L1154.0 2733.1 L1159.0 2727.5 L1164.0 2721.6 L1169.0 2716.1 L1174.0 2710.5 L1179.0 2704.4 L1184.0 2699.2 L1189.0 2694.1 L1194.0 2688.8 L1199.0 2684.7 L1204.0 2680.3 L1209.0 2676.8 L1214.0 2672.5 L1219.0 2670.0 L1224.0 2666.6 L1229.0 2663.7 L1234.0 2660.6 L1239.0 2658.6 L1244.0 2655.7 L1249.0 2653.0 L1254.0 2649.8 L1259.0 2647.1 L1264.0 2644.0 L1269.0 2641.6 L1274.0 2637.9 L1279.0 2634.7 L1284.0 2631.3 L1289.0 2627.9 L1294.0 2623.8 L1299.0 2620.2 L1304.0 2617.4 L1309.0 2612.9 L1314.0 2610.2 L1319.0 2606.0 L1324.0 2602.0 L1329.0 2598.7 L1334.0 2595.6 L1339.0 2591.7 L1344.0 2588.0 L1349.0 2584.5 L1354.0 2581.2 L1359.0 2578.4 L1364.0 2575.1 L1369.0 2572.4 L1374.0 2569.0 L1379.0 2566.5 L1384.0 2564.1 L1389.0 2561.4 L1394.0 2559.3 L1399.0 2556.4 L1404.0 2554.5 L1409.0 2551.9 L1414.0 2549.0 L1419.0 2546.5 L1424.0 2543.2 L1429.0 2540.7 L1434.0 2537.2 L1439.0 2533.4 L1444.0 2530.4 L1449.0 2526.6 L1454.0 2523.1 L1459.0 2519.2 L1464.0 2515.6 L1469.0 2511.4 L1474.0 2507.4 L1479.0 2504.0 L1484.0 2500.3 L1489.0 2496.2 L1494.0 2492.7 L1499.0 2489.1 L1504.0 2485.4 L1509.0 2482.1 L1514.0 2479.5 L1519.0 2476.0 L1524.0 2473.1 L1529.0 2470.0 L1534.0 2466.0 L1539.0 2461.7 L1544.0 2457.4 L1549.0 2451.8 L1554.0 2445.9 L1559.0 2439.5 L1564.0 2433.8 L1569.0 2427.0 L1574.0 2421.0 L1579.0 2414.9 L1584.0 2408.7 L1589.0 2402.3 L1594.0 2397.3 L1599.0 2391.4 L1604.0 2385.3 L1609.0 2379.7 L1614.0 2374.4 L1619.0 2369.2 L1624.0 2363.7 L1629.0 2357.7 L1634.0 2353.2 L1639.0 2347.0 L1644.0 2342.5 L1649.0 2336.9 L1654.0 2332.0 L1659.0 2326.7 L1664.0 2321.2 L1669.0 2315.3 L1674.0 2309.6 L1679.0 2303.1 L1684.0 2296.6 L1689.0 2289.4 L1694.0 2282.5 L1699.0 2275.5 L1704.0 2267.7 L1709.0 2259.5 L1714.0 2252.4 L1719.0 2245.1 L1724.0 2237.8 L1729.0 2230.4 L1734.0 2223.4 L1739.0 2215.3 L1744.0 2208.3 L1749.0 2201.0 L1754.0 2193.0 L1759.0 2185.9 L1764.0 2178.7 L1769.0 2172.2 L1774.0 2165.3 L1779.0 2157.9 L1784.0 2150.0 L1789.0 2141.7 L1794.0 2133.6 L1799.0 2125.4 L1804.0 2117.0 L1809.0 2109.3 L1814.0 2101.6 L1819.0 2095.0 L1824.0 2089.2 L1829.0 2084.5 L1834.0 2078.7 L1839.0 2073.6 L1844.0 2066.8 L1849.0 2059.1 L1854.0 2050.3 L1859.0 2040.0 L1864.0 2029.2 L1869.0 2019.1 L1874.0 2008.9 L1879.0 2000.7 L1884.0 1994.1 L1889.0 1987.4 L1894.0 1982.5 L1899.0 1976.7 L1904.0 1972.5 L1909.0 1967.3 L1910.0 1966.0" fill="none" stroke="#dda77a" stroke-width="7" stroke-linejoin="round" stroke-linecap="butt" />
<path d="M453.0 3494.6 L458.0 3494.0 L463.0 3492.4 L468.0 3490.7 L473.0 3489.9 L478.0 3488.4 L483.0 3487.3 L488.0 3485.6 L493.0 3484.3 L498.0 3482.9 L503.0 3480.9 L508.0 3479.0 L513.0 3477.9 L518.0 3475.1 L523.0 3473.2 L528.0 3470.9 L533.0 3467.3 L538.0 3463.8 L543.0 3460.2 L548.0 3456.1 L553.0 3452.8 L558.0 3448.5 L563.0 3444.4 L568.0 3441.0 L573.0 3436.6 L578.0 3432.3 L583.0 3427.8 L588.0 3424.1 L593.0 3418.8 L598.0 3414.0 L603.0 3408.6 L608.0 3403.5 L613.0 3397.1 L618.0 3391.8 L623.0 3386.2 L628.0 3379.7 L633.0 3373.9 L638.0 3367.9 L643.0 3361.8 L648.0 3356.3 L653.0 3349.4 L658.0 3343.6 L663.0 3336.6 L668.0 3331.1 L673.0 3324.0 L678.0 3318.2 L683.0 3310.9 L688.0 3304.3 L693.0 3297.8 L698.0 3291.6 L703.0 3287.0 L708.0 3282.3 L713.0 3275.7 L718.0 3268.8 L723.0 3261.6 L728.0 3254.0 L733.0 3245.7 L738.0 3236.9 L743.0 3228.2 L748.0 3219.3 L753.0 3210.3 L758.0 3201.4 L763.0 3196.1 L768.0 3187.8 L773.0 3176.0 L778.0 3166.7 L783.0 3157.2 L788.0 3147.7 L793.0 3144.7 L798.0 3132.7 L803.0 3130.6 L808.0 3118.6 L813.0 3107.3 L818.0 3108.3 L823.0 3096.2 L828.0 3080.7 L833.0 3078.7 L838.0 3069.1 L843.0 3061.9 L848.0 3051.0 L853.0 3041.6 L858.0 3035.5 L863.0 3032.0 L868.0 3026.7 L873.0 3018.9 L878.0 3009.3 L883.0 3001.9 L888.0 3003.9 L893.0 2997.9 L898.0 2991.2 L903.0 2980.9 L908.0 2970.3 L913.0 2965.6 L918.0 2962.8 L923.0 2959.9 L928.0 2952.2 L933.0 2940.3 L938.0 2942.5 L943.0 2933.9 L948.0 2926.0 L953.0 2923.6 L958.0 2914.1 L963.0 2909.5 L968.0 2898.6 L973.0 2893.6 L978.0 2897.0 L983.0 2886.9 L988.0 2885.6 L993.0 2876.4 L998.0 2871.5 L1003.0 2863.7 L1008.0 2866.4 L1013.0 2855.0 L1018.0 2855.1 L1023.0 2844.1 L1028.0 2840.3 L1033.0 2832.9 L1038.0 2833.7 L1043.0 2830.5 L1048.0 2822.0 L1053.0 2816.2 L1058.0 2805.9 L1063.0 2806.7 L1068.0 2792.2 L1073.0 2787.7 L1078.0 2785.0 L1083.0 2779.8 L1088.0 2770.3 L1093.0 2767.5 L1098.0 2756.8 L1103.0 2750.4 L1108.0 2748.4 L1113.0 2744.2 L1118.0 2741.6 L1123.0 2731.8 L1128.0 2730.8 L1133.0 2723.4 L1138.0 2719.8 L1143.0 2711.4 L1148.0 2702.9 L1153.0 2699.6 L1158.0 2694.9 L1163.0 2685.5 L1168.0 2679.6 L1173.0 2676.1 L1178.0 2673.2 L1183.0 2663.2 L1188.0 2661.2 L1193.0 2654.1 L1198.0 2657.1 L1203.0 2647.4 L1208.0 2643.4 L1213.0 2633.2 L1218.0 2629.3 L1223.0 2626.9 L1228.0 2618.6 L1233.0 2612.3 L1238.0 2597.8 L1243.0 2597.7 L1248.0 2590.1 L1253.0 2578.8 L1258.0 2571.4 L1263.0 2570.0 L1268.0 2556.9 L1273.0 2549.5 L1278.0 2546.2 L1283.0 2537.8 L1288.0 2530.0 L1293.0 2522.8 L1298.0 2518.7 L1303.0 2511.7 L1308.0 2501.8 L1313.0 2499.7 L1318.0 2485.9 L1323.0 2478.9 L1328.0 2472.9 L1333.0 2462.0 L1338.0 2460.0 L1343.0 2452.6 L1348.0 2443.4 L1353.0 2438.2 L1358.0 2431.4 L1363.0 2425.4 L1368.0 2418.0 L1373.0 2409.0 L1378.0 2402.2 L1383.0 2400.1 L1388.0 2385.1 L1393.0 2386.3 L1398.0 2371.7 L1403.0 2365.2 L1408.0 2360.6 L1413.0 2358.7 L1418.0 2343.2 L1423.0 2333.3 L1428.0 2331.7 L1433.0 2320.3 L1438.0 2307.8 L1443.0 2306.6 L1448.0 2294.4 L1453.0 2285.8 L1458.0 2270.7 L1463.0 2266.4 L1468.0 2251.4 L1473.0 2244.1 L1478.0 2237.9 L1483.0 2232.7 L1488.0 2222.8 L1493.0 2206.0 L1498.0 2203.8 L1503.0 2194.2 L1508.0 2176.9 L1513.0 2167.5 L1518.0 2160.3 L1523.0 2160.2 L1528.0 2145.3 L1533.0 2140.6 L1538.0 2134.3 L1543.0 2124.3 L1548.0 2115.9 L1553.0 2110.6 L1558.0 2105.4 L1563.0 2092.0 L1568.0 2082.7 L1573.0 2079.2 L1578.0 2076.6 L1583.0 2067.7 L1588.0 2050.5 L1593.0 2045.6 L1598.0 2036.3 L1603.0 2024.5 L1608.0 2005.5 L1613.0 1994.3 L1618.0 1987.7 L1623.0 1981.7 L1628.0 1970.3 L1629.0 1964.0" fill="none" stroke="#505050" stroke-width="7" stroke-linejoin="round" stroke-linecap="butt" />
<path d="M455.0 3496.9 L460.0 3495.2 L465.0 3494.3 L470.0 3492.5 L475.0 3491.5 L480.0 3490.0 L485.0 3489.0 L490.0 3487.0 L495.0 3486.4 L500.0 3484.0 L505.0 3482.5 L510.0 3481.5 L515.0 3480.1 L520.0 3478.3 L525.0 3476.5 L530.0 3474.1 L535.0 3472.4 L540.0 3470.7 L545.0 3468.8 L550.0 3466.7 L555.0 3464.8 L560.0 3462.6 L565.0 3460.2 L570.0 3458.0 L575.0 3455.3 L580.0 3451.6 L585.0 3449.0 L590.0 3445.9 L595.0 3441.9 L600.0 3439.2 L605.0 3435.2 L610.0 3431.3 L615.0 3427.3 L620.0 3423.7 L625.0 3419.1 L630.0 3414.6 L635.0 3410.5 L640.0 3405.0 L645.0 3400.3 L650.0 3395.6 L655.0 3390.2 L660.0 3384.7 L665.0 3379.3 L670.0 3372.9 L675.0 3367.7 L680.0 3361.8 L685.0 3356.4 L690.0 3350.5 L695.0 3343.7 L700.0 3337.3 L705.0 3329.0 L710.0 3321.0 L715.0 3313.8 L720.0 3306.7 L725.0 3299.3 L730.0 3291.4 L735.0 3284.0 L740.0 3277.6 L745.0 3270.2 L750.0 3263.2 L755.0 3255.6 L760.0 3252.5 L765.0 3241.4 L770.0 3231.2 L775.0 3220.1 L780.0 3214.0 L785.0 3205.5 L790.0 3194.5 L795.0 3190.3 L800.0 3174.1 L805.0 3171.3 L810.0 3164.0 L815.0 3153.1 L820.0 3141.6 L825.0 3135.7 L830.0 3126.4 L835.0 3124.3 L840.0 3116.7 L845.0 3102.5 L850.0 3096.7 L855.0 3090.9 L860.0 3073.5 L865.0 3071.0 L870.0 3060.3 L875.0 3048.6 L880.0 3044.5 L885.0 3044.4 L890.0 3028.3 L895.0 3026.0 L900.0 3025.5 L905.0 3010.6 L910.0 3010.2 L915.0 2999.3 L920.0 2999.4 L925.0 2993.3 L930.0 2984.9 L935.0 2972.3 L940.0 2974.8 L945.0 2961.6 L950.0 2961.1 L955.0 2953.4 L960.0 2946.8 L965.0 2938.2 L970.0 2936.9 L975.0 2933.6 L980.0 2926.5 L985.0 2920.2 L990.0 2907.4 L995.0 2901.4 L1000.0 2901.9 L1005.0 2893.2 L1010.0 2893.4 L1015.0 2883.8 L1020.0 2884.3 L1025.0 2867.8 L1030.0 2873.7 L1035.0 2861.0 L1040.0 2861.4 L1045.0 2854.5 L1050.0 2850.0 L1055.0 2842.6 L1060.0 2841.3 L1065.0 2837.1 L1070.0 2825.7 L1075.0 2824.5 L1080.0 2816.4 L1085.0 2811.8 L1090.0 2803.6 L1095.0 2799.4 L1100.0 2787.0 L1105.0 2783.6 L1110.0 2782.7 L1115.0 2768.3 L1120.0 2768.6 L1125.0 2759.3 L1130.0 2753.5 L1135.0 2744.8 L1140.0 2744.4 L1145.0 2731.6 L1150.0 2727.9 L1155.0 2718.9 L1160.0 2717.2 L1165.0 2706.5 L1170.0 2706.1 L1175.0 2700.0 L1180.0 2689.8 L1185.0 2684.2 L1190.0 2682.4 L1195.0 2683.6 L1200.0 2673.3 L1205.0 2669.2 L1210.0 2659.0 L1215.0 2660.6 L1220.0 2647.2 L1225.0 2652.8 L1230.0 2642.9 L1235.0 2634.0 L1240.0 2631.8 L1245.0 2615.9 L1250.0 2610.4 L1255.0 2608.1 L1260.0 2601.4 L1265.0 2587.1 L1270.0 2578.2 L1275.0 2576.9 L1280.0 2566.5 L1285.0 2564.2 L1290.0 2557.8 L1295.0 2550.4 L1300.0 2538.8 L1305.0 2535.1 L1310.0 2524.7 L1315.0 2511.1 L1320.0 2512.2 L1325.0 2493.8 L1330.0 2492.3 L1335.0 2481.0 L1340.0 2478.6 L1345.0 2469.5 L1350.0 2462.5 L1355.0 2457.6 L1360.0 2445.0 L1365.0 2438.8 L1370.0 2436.2 L1375.0 2422.4 L1380.0 2412.6 L1385.0 2408.9 L1390.0 2400.8 L1395.0 2394.2 L1400.0 2386.9 L1405.0 2377.1 L1410.0 2370.4 L1415.0 2368.9 L1420.0 2357.5 L1425.0 2351.7 L1430.0 2334.3 L1435.0 2330.8 L1440.0 2315.6 L1445.0 2306.8 L1450.0 2303.0 L1455.0 2294.4 L1460.0 2283.7 L1465.0 2271.5 L1470.0 2259.5 L1475.0 2258.7 L1480.0 2246.0 L1485.0 2229.8 L1490.0 2231.0 L1495.0 2211.4 L1500.0 2201.7 L1505.0 2196.5 L1510.0 2193.4 L1515.0 2176.9 L1520.0 2167.1 L1525.0 2163.9 L1530.0 2155.7 L1535.0 2151.9 L1540.0 2138.6 L1545.0 2130.2 L1550.0 2124.4 L1555.0 2110.9 L1560.0 2105.6 L1565.0 2104.1 L1570.0 2090.2 L1575.0 2090.2 L1580.0 2076.4 L1585.0 2066.9 L1590.0 2059.9 L1595.0 2049.5 L1600.0 2040.2 L1605.0 2032.5 L1610.0 2024.8 L1615.0 2006.9 L1620.0 1996.2 L1625.0 1989.1 L1630.0 1972.8 L1635.0 1961.6" fill="none" stroke="#d9434b" stroke-width="7" stroke-linejoin="round" stroke-linecap="butt" />
<path d="M455.0 3496.9 L460.0 3496.1 L465.0 3494.8 L470.0 3493.7 L475.0 3492.9 L480.0 3491.2 L485.0 3490.9 L490.0 3489.2 L495.0 3487.7 L500.0 3487.0 L505.0 3485.2 L510.0 3484.5 L515.0 3482.8 L520.0 3480.7 L525.0 3479.8 L530.0 3477.5 L535.0 3476.4 L540.0 3473.7 L545.0 3472.2 L550.0 3470.5 L555.0 3468.1 L560.0 3465.9 L565.0 3463.3 L570.0 3461.0 L575.0 3458.3 L580.0 3454.1 L585.0 3450.3 L590.0 3445.4 L595.0 3440.0 L600.0 3434.6 L605.0 3428.4 L610.0 3423.0 L615.0 3418.1 L620.0 3413.6 L625.0 3409.2 L630.0 3404.6 L635.0 3399.3 L640.0 3394.5 L645.0 3390.7 L650.0 3385.3 L655.0 3380.9 L660.0 3375.4 L665.0 3370.6 L670.0 3365.3 L675.0 3359.4 L680.0 3352.2 L685.0 3345.0 L690.0 3337.5 L695.0 3328.8 L700.0 3319.9 L705.0 3311.8 L710.0 3303.6 L715.0 3295.6 L720.0 3286.8 L725.0 3278.1 L730.0 3271.3 L735.0 3264.7 L740.0 3257.4 L745.0 3249.1 L750.0 3240.5 L755.0 3231.6 L760.0 3229.7 L765.0 3212.9 L770.0 3200.6 L775.0 3192.3 L780.0 3184.5 L785.0 3176.0 L790.0 3164.7 L795.0 3157.7 L800.0 3157.5 L805.0 3138.7 L810.0 3130.9 L815.0 3125.1 L820.0 3116.8 L825.0 3122.6 L830.0 3113.1 L835.0 3105.2 L840.0 3082.1 L845.0 3082.2 L850.0 3073.5 L855.0 3056.4 L860.0 3050.2 L865.0 3047.6 L870.0 3039.4 L875.0 3032.8 L880.0 3028.0 L885.0 3025.6 L890.0 3018.8 L895.0 3014.0 L900.0 3006.7 L905.0 2990.4 L910.0 2991.3 L915.0 2979.1 L920.0 2977.8 L925.0 2968.8 L930.0 2971.4 L935.0 2958.0 L940.0 2952.2 L945.0 2943.3 L950.0 2940.9 L955.0 2936.4 L960.0 2922.9 L965.0 2930.5 L970.0 2917.6 L975.0 2907.2 L980.0 2911.0 L985.0 2892.8 L990.0 2898.1 L995.0 2887.8 L1000.0 2891.8 L1005.0 2872.9 L1010.0 2881.0 L1015.0 2871.7 L1020.0 2867.9 L1025.0 2858.1 L1030.0 2851.7 L1035.0 2850.9 L1040.0 2840.9 L1045.0 2845.5 L1050.0 2834.3 L1055.0 2832.7 L1060.0 2826.9 L1065.0 2812.5 L1070.0 2810.7 L1075.0 2797.9 L1080.0 2792.2 L1085.0 2785.7 L1090.0 2794.4 L1095.0 2780.3 L1100.0 2773.3 L1105.0 2772.5 L1110.0 2758.8 L1115.0 2751.2 L1120.0 2745.0 L1125.0 2740.4 L1130.0 2737.1 L1135.0 2730.6 L1140.0 2728.4 L1145.0 2720.9 L1150.0 2724.1 L1155.0 2712.6 L1160.0 2712.4 L1165.0 2702.2 L1170.0 2696.6 L1175.0 2698.4 L1180.0 2678.6 L1185.0 2687.7 L1190.0 2681.6 L1195.0 2663.4 L1200.0 2658.1 L1205.0 2658.1 L1210.0 2652.1 L1215.0 2653.2 L1220.0 2643.1 L1225.0 2644.0 L1230.0 2634.2 L1235.0 2624.6 L1240.0 2615.5 L1245.0 2615.1 L1250.0 2600.6 L1255.0 2598.5 L1260.0 2586.9 L1265.0 2587.1 L1270.0 2580.5 L1275.0 2570.2 L1280.0 2568.1 L1285.0 2560.5 L1290.0 2542.6 L1295.0 2544.1 L1300.0 2535.8 L1305.0 2530.2 L1310.0 2521.3 L1315.0 2520.4 L1320.0 2511.5 L1325.0 2504.6 L1330.0 2487.0 L1335.0 2485.0 L1340.0 2475.2 L1345.0 2480.0 L1350.0 2466.5 L1355.0 2451.8 L1360.0 2455.0 L1365.0 2436.8 L1370.0 2436.2 L1375.0 2425.2 L1380.0 2418.0 L1385.0 2419.9 L1390.0 2416.9 L1395.0 2398.8 L1400.0 2391.6 L1405.0 2396.6 L1410.0 2388.6 L1415.0 2380.0 L1420.0 2372.3 L1425.0 2355.9 L1430.0 2346.2 L1435.0 2340.0 L1440.0 2338.5 L1445.0 2321.2 L1450.0 2323.1 L1455.0 2304.0 L1460.0 2310.5 L1465.0 2297.4 L1470.0 2287.6 L1475.0 2273.4 L1480.0 2269.5 L1485.0 2262.2 L1490.0 2249.0 L1495.0 2236.4 L1500.0 2229.5 L1505.0 2223.3 L1510.0 2202.1 L1515.0 2201.9 L1520.0 2184.3 L1525.0 2181.4 L1530.0 2164.5 L1535.0 2168.6 L1540.0 2154.2 L1545.0 2149.1 L1550.0 2142.4 L1555.0 2132.0 L1560.0 2123.0 L1565.0 2122.9 L1570.0 2107.1 L1575.0 2102.1 L1580.0 2094.5 L1585.0 2083.0 L1590.0 2087.1 L1595.0 2077.3 L1600.0 2071.0 L1605.0 2051.1 L1610.0 2046.8 L1615.0 2038.4 L1620.0 2023.2 L1625.0 2017.2 L1630.0 1995.9 L1635.0 1993.2 L1640.0 1974.5 L1645.0 1969.5 L1646.0 1964.0" fill="none" stroke="#2f6dcf" stroke-width="7" stroke-linejoin="round" stroke-linecap="butt" />
<path d="M452.0 3481.5 L457.0 3481.0 L462.0 3480.7 L467.0 3480.0 L472.0 3479.3 L477.0 3478.6 L482.0 3477.1 L487.0 3476.3 L492.0 3475.7 L497.0 3474.8 L502.0 3473.4 L507.0 3472.8 L512.0 3471.1 L517.0 3470.2 L522.0 3468.5 L527.0 3466.6 L532.0 3464.9 L537.0 3463.4 L542.0 3461.2 L547.0 3458.9 L552.0 3457.3 L557.0 3454.4 L562.0 3451.8 L567.0 3449.0 L572.0 3447.1 L577.0 3444.0 L582.0 3440.9 L587.0 3437.5 L592.0 3433.9 L597.0 3430.2 L602.0 3427.2 L607.0 3423.8 L612.0 3420.2 L617.0 3415.4 L622.0 3411.4 L627.0 3407.4 L632.0 3403.5 L637.0 3399.8 L642.0 3395.4 L647.0 3391.0 L652.0 3385.9 L657.0 3380.9 L662.0 3376.7 L667.0 3371.9 L672.0 3366.2 L677.0 3361.3 L682.0 3356.7 L687.0 3352.6 L692.0 3348.8 L697.0 3344.9 L702.0 3340.4 L707.0 3336.1 L712.0 3331.7 L717.0 3326.8 L722.0 3320.9 L727.0 3313.6 L732.0 3306.8 L737.0 3299.5 L742.0 3292.5 L747.0 3284.5 L752.0 3276.6 L757.0 3267.7 L762.0 3259.4 L767.0 3249.9 L772.0 3239.0 L777.0 3228.8 L782.0 3217.5 L787.0 3206.1 L792.0 3196.7 L797.0 3187.3 L802.0 3178.7 L807.0 3171.0 L812.0 3163.8 L817.0 3157.5 L822.0 3151.1 L827.0 3144.2 L832.0 3138.3 L837.0 3132.0 L842.0 3124.9 L847.0 3118.2 L852.0 3109.6 L857.0 3101.4 L862.0 3090.9 L867.0 3078.5 L872.0 3065.9 L877.0 3052.4 L882.0 3039.3 L887.0 3026.6 L892.0 3015.2 L897.0 3005.1 L902.0 2996.0 L907.0 2988.3 L912.0 2979.5 L917.0 2972.7 L922.0 2964.8 L927.0 2957.8 L932.0 2950.6 L937.0 2944.2 L942.0 2937.7 L947.0 2930.8 L952.0 2923.8 L957.0 2918.1 L962.0 2911.6 L967.0 2905.7 L972.0 2899.9 L977.0 2894.5 L982.0 2888.2 L987.0 2883.0 L992.0 2876.8 L997.0 2870.9 L1002.0 2865.1 L1007.0 2860.3 L1012.0 2854.4 L1017.0 2849.1 L1022.0 2842.7 L1027.0 2837.3 L1032.0 2831.6 L1037.0 2825.4 L1042.0 2819.9 L1047.0 2813.6 L1052.0 2807.4 L1057.0 2802.0 L1062.0 2795.8 L1067.0 2790.1 L1072.0 2784.5 L1077.0 2778.7 L1082.0 2772.7 L1087.0 2767.2 L1092.0 2762.3 L1097.0 2757.0 L1102.0 2751.2 L1107.0 2746.7 L1112.0 2741.2 L1117.0 2735.5 L1122.0 2729.5 L1127.0 2724.3 L1132.0 2718.0 L1137.0 2711.7 L1142.0 2705.1 L1147.0 2698.8 L1152.0 2691.8 L1157.0 2685.1 L1162.0 2677.8 L1167.0 2670.6 L1172.0 2663.8 L1177.0 2656.8 L1182.0 2650.6 L1187.0 2643.2 L1192.0 2636.2 L1197.0 2630.1 L1202.0 2623.0 L1207.0 2615.5 L1212.0 2608.6 L1217.0 2602.3 L1222.0 2595.5 L1227.0 2588.3 L1232.0 2581.3 L1237.0 2573.9 L1242.0 2566.4 L1247.0 2559.9 L1252.0 2552.4 L1257.0 2544.6 L1262.0 2536.3 L1267.0 2529.2 L1272.0 2520.8 L1277.0 2512.8 L1282.0 2503.8 L1287.0 2494.9 L1292.0 2486.9 L1297.0 2477.3 L1302.0 2469.0 L1307.0 2459.7 L1312.0 2450.8 L1317.0 2441.8 L1322.0 2432.9 L1327.0 2422.9 L1332.0 2413.7 L1337.0 2404.9 L1342.0 2395.1 L1347.0 2386.1 L1352.0 2376.9 L1357.0 2367.2 L1362.0 2357.3 L1367.0 2348.4 L1372.0 2339.1 L1377.0 2329.2 L1382.0 2319.5 L1387.0 2310.1 L1392.0 2300.0 L1397.0 2290.0 L1402.0 2279.7 L1407.0 2269.0 L1412.0 2258.9 L1417.0 2247.8 L1422.0 2237.2 L1427.0 2226.3 L1432.0 2215.5 L1437.0 2205.2 L1442.0 2194.1 L1447.0 2184.1 L1452.0 2173.7 L1457.0 2164.8 L1462.0 2155.3 L1467.0 2146.9 L1472.0 2138.1 L1477.0 2129.5 L1482.0 2120.9 L1487.0 2111.2 L1492.0 2102.1 L1497.0 2092.4 L1502.0 2081.5 L1507.0 2070.7 L1512.0 2059.7 L1517.0 2048.2 L1522.0 2037.1 L1527.0 2025.2 L1532.0 2014.1 L1537.0 2002.9 L1542.0 1991.6 L1547.0 1979.7 L1552.0 1968.0 L1553.0 1966.0" fill="none" stroke="#a97bd6" stroke-width="7" stroke-linejoin="round" stroke-linecap="butt" />
<path d="M453.0 3498.0 L458.0 3497.1 L463.0 3496.3 L468.0 3494.7 L473.0 3493.7 L478.0 3493.2 L483.0 3491.8 L488.0 3491.1 L493.0 3490.2 L498.0 3488.3 L503.0 3487.4 L508.0 3486.0 L513.0 3484.9 L518.0 3484.1 L523.0 3482.0 L528.0 3480.7 L533.0 3479.0 L538.0 3477.4 L543.0 3475.8 L548.0 3474.0 L553.0 3472.9 L558.0 3470.9 L563.0 3468.5 L568.0 3466.6 L573.0 3464.4 L578.0 3461.1 L583.0 3458.7 L588.0 3455.2 L593.0 3452.3 L598.0 3449.1 L603.0 3445.9 L608.0 3442.6 L613.0 3438.8 L618.0 3435.1 L623.0 3431.8 L628.0 3427.7 L633.0 3424.2 L638.0 3420.3 L643.0 3416.5 L648.0 3411.7 L653.0 3407.5 L658.0 3403.7 L663.0 3398.8 L668.0 3394.4 L673.0 3389.6 L678.0 3385.3 L683.0 3380.0 L688.0 3374.7 L693.0 3370.2 L698.0 3363.9 L703.0 3358.6 L708.0 3353.2 L713.0 3346.8 L718.0 3340.9 L723.0 3334.3 L728.0 3326.8 L733.0 3319.2 L738.0 3312.0 L743.0 3303.8 L748.0 3295.9 L753.0 3287.8 L758.0 3280.4 L763.0 3278.6 L768.0 3258.9 L773.0 3253.5 L778.0 3242.9 L783.0 3237.8 L788.0 3230.2 L793.0 3222.4 L798.0 3213.6 L803.0 3207.1 L808.0 3199.6 L813.0 3180.4 L818.0 3174.1 L823.0 3175.5 L828.0 3169.3 L833.0 3146.5 L838.0 3142.5 L843.0 3139.4 L848.0 3130.5 L853.0 3118.0 L858.0 3122.2 L863.0 3110.8 L868.0 3099.9 L873.0 3089.2 L878.0 3075.3 L883.0 3067.2 L888.0 3070.4 L893.0 3062.5 L898.0 3046.0 L903.0 3043.1 L908.0 3027.8 L913.0 3035.4 L918.0 3017.2 L923.0 3018.7 L928.0 3015.1 L933.0 3003.1 L938.0 3003.6 L943.0 2985.8 L948.0 2977.5 L953.0 2970.3 L958.0 2964.9 L963.0 2961.1 L968.0 2958.2 L973.0 2947.6 L978.0 2940.5 L983.0 2935.6 L988.0 2942.1 L993.0 2936.7 L998.0 2932.4 L1003.0 2924.8 L1008.0 2918.3 L1013.0 2904.5 L1018.0 2905.4 L1023.0 2898.2 L1028.0 2886.6 L1033.0 2893.6 L1038.0 2884.2 L1043.0 2875.7 L1048.0 2864.2 L1053.0 2868.7 L1058.0 2865.5 L1063.0 2856.5 L1068.0 2849.4 L1073.0 2853.2 L1078.0 2839.2 L1083.0 2841.2 L1088.0 2829.9 L1093.0 2816.8 L1098.0 2815.0 L1103.0 2819.4 L1108.0 2801.4 L1113.0 2791.9 L1118.0 2794.1 L1123.0 2783.3 L1128.0 2776.9 L1133.0 2767.8 L1138.0 2757.8 L1143.0 2755.3 L1148.0 2745.1 L1153.0 2739.1 L1158.0 2730.8 L1163.0 2726.9 L1168.0 2718.6 L1173.0 2722.4 L1178.0 2713.4 L1183.0 2698.2 L1188.0 2701.0 L1193.0 2695.8 L1198.0 2693.3 L1203.0 2676.0 L1208.0 2670.7 L1213.0 2666.9 L1218.0 2668.4 L1223.0 2661.0 L1228.0 2659.4 L1233.0 2644.3 L1238.0 2634.6 L1243.0 2638.3 L1248.0 2625.0 L1253.0 2621.2 L1258.0 2614.5 L1263.0 2599.5 L1268.0 2597.3 L1273.0 2591.1 L1278.0 2578.2 L1283.0 2566.4 L1288.0 2563.1 L1293.0 2553.7 L1298.0 2546.9 L1303.0 2536.3 L1308.0 2520.3 L1313.0 2517.5 L1318.0 2507.8 L1323.0 2505.9 L1328.0 2489.9 L1333.0 2479.9 L1338.0 2471.1 L1343.0 2460.3 L1348.0 2462.1 L1353.0 2452.7 L1358.0 2442.3 L1363.0 2434.7 L1368.0 2415.8 L1373.0 2413.4 L1378.0 2408.0 L1383.0 2398.2 L1388.0 2389.3 L1393.0 2377.8 L1398.0 2372.5 L1403.0 2364.6 L1408.0 2350.3 L1413.0 2347.0 L1418.0 2337.8 L1423.0 2332.1 L1428.0 2311.0 L1433.0 2306.9 L1438.0 2300.2 L1443.0 2277.9 L1448.0 2280.5 L1453.0 2257.5 L1458.0 2248.1 L1463.0 2246.0 L1468.0 2234.3 L1473.0 2228.6 L1478.0 2225.2 L1483.0 2213.1 L1488.0 2206.9 L1493.0 2188.5 L1498.0 2183.6 L1503.0 2169.9 L1508.0 2163.7 L1513.0 2148.5 L1518.0 2144.6 L1523.0 2148.0 L1528.0 2137.2 L1533.0 2128.8 L1538.0 2109.7 L1543.0 2111.6 L1548.0 2101.7 L1553.0 2098.6 L1558.0 2092.8 L1563.0 2072.7 L1568.0 2073.6 L1573.0 2064.3 L1578.0 2059.6 L1583.0 2037.6 L1588.0 2037.8 L1593.0 2019.8 L1598.0 2014.2 L1603.0 1992.0 L1608.0 1980.8 L1613.0 1974.3 L1618.0 1968.6 L1619.0 1964.0" fill="none" stroke="#3aa463" stroke-width="7" stroke-linejoin="round" stroke-linecap="butt" />
</g>
<path d="M701.0 3481.0 L1669.3 2314.5" stroke="#000" stroke-width="8" stroke-linecap="square" stroke-dasharray="0.01 48.830" fill="none"/>
<path d="M819.0 3493.0 L1877.6 2719.8" stroke="#000" stroke-width="8" stroke-linecap="square" stroke-dasharray="0.01 50.333" fill="none"/>
<path d="M1317.0 2936.0 L792.7 3434.2" stroke="#000" stroke-width="5" fill="none"/><path d="M755.0 3470.0 L786.0 3421.3 L805.2 3441.6 Z" fill="#000"/>
<path d="M1455.0 3256.0 L919.3 3468.8" stroke="#000" stroke-width="5" fill="none"/><path d="M871.0 3488.0 L917.9 3454.3 L928.2 3480.3 Z" fill="#000"/>
<rect x="219" y="1960" width="2150" height="1542" fill="none" stroke="#000" stroke-width="12"/>
<rect x="427.9" y="3489" width="12" height="13" fill="#000"/>
<rect x="642.8" y="3474" width="12" height="28" fill="#000"/>
<rect x="857.7" y="3489" width="12" height="13" fill="#000"/>
<rect x="1072.6" y="3474" width="12" height="28" fill="#000"/>
<rect x="1287.5" y="3489" width="12" height="13" fill="#000"/>
<rect x="1502.4" y="3474" width="12" height="28" fill="#000"/>
<rect x="1717.3" y="3489" width="12" height="13" fill="#000"/>
<rect x="1932.2" y="3474" width="12" height="28" fill="#000"/>
<rect x="2147.1" y="3489" width="12" height="13" fill="#000"/>
<rect x="2362.0" y="3474" width="12" height="28" fill="#000"/>
<g font-family="'Liberation Serif', 'Times New Roman', serif" font-weight="bold" fill="#000">
<text transform="translate(203.45 3598.00) scale(0.7586 1.0196)" font-size="78">1</text>
<text transform="translate(626.35 3598.00) scale(1.1515 1.0196)" font-size="78">2</text>
<text transform="translate(1056.15 3598.00) scale(1.1515 1.0196)" font-size="78">3</text>
<text transform="translate(1488.37 3598.00) scale(1.0270 1.0196)" font-size="78">4</text>
<text transform="translate(1915.75 3598.00) scale(1.1515 1.0196)" font-size="78">5</text>
<text transform="translate(2345.65 3598.00) scale(1.1176 1.0196)" font-size="78">6</text>
<text transform="translate(86.88 2070.02) scale(1.0625 0.9775)" font-size="128">b</text>
<text transform="translate(143.00 2991.79) rotate(-90) scale(0.9484 1.0000)" font-size="86">(αhv)<tspan font-size="62.8" dy="-36.1">2</tspan><tspan dy="36.1">(eV/cm)</tspan><tspan font-size="62.8" dy="-36.1">2</tspan></text>
<text transform="translate(1154.00 3698.91) scale(0.9994 0.9429)" font-size="78" letter-spacing="5.53">hv (eV)</text>
<text transform="translate(1236.70 2906.96) scale(1.1016 1.0392)" font-size="76" letter-spacing="2.86">2.09 eV</text>
<text transform="translate(1440.82 3213.00) scale(1.0600 1.0000)" font-size="76" letter-spacing="4.53">2.39 eV</text>
<rect x="229" y="2013.5" width="141" height="7" fill="#555555"/>
<text transform="translate(403.89 2040.50) scale(1.1050 1.0000)" font-size="80">Fe<tspan font-size="57.6" dy="23.2">2</tspan><tspan dy="-23.2">O</tspan><tspan font-size="57.6" dy="23.2">3</tspan><tspan dy="-23.2">/P</tspan><tspan font-size="57.6" dy="23.2">2</tspan><tspan dy="-23.2">Mo</tspan><tspan font-size="57.6" dy="23.2">18</tspan><tspan dy="-23.2">-1%</tspan></text>
<rect x="229" y="2131.5" width="141" height="7" fill="#c0565a"/>
<text transform="translate(415.89 2158.50) scale(1.1050 1.0000)" font-size="80">Fe<tspan font-size="57.6" dy="23.2">2</tspan><tspan dy="-23.2">O</tspan><tspan font-size="57.6" dy="23.2">3</tspan><tspan dy="-23.2">/P</tspan><tspan font-size="57.6" dy="23.2">2</tspan><tspan dy="-23.2">Mo</tspan><tspan font-size="57.6" dy="23.2">18</tspan><tspan dy="-23.2">-3%</tspan></text>
<rect x="229" y="2252.5" width="141" height="7" fill="#3a68b0"/>
<text transform="translate(415.89 2279.50) scale(1.1050 1.0000)" font-size="80">Fe<tspan font-size="57.6" dy="23.2">2</tspan><tspan dy="-23.2">O</tspan><tspan font-size="57.6" dy="23.2">3</tspan><tspan dy="-23.2">/P</tspan><tspan font-size="57.6" dy="23.2">2</tspan><tspan dy="-23.2">Mo</tspan><tspan font-size="57.6" dy="23.2">18</tspan><tspan dy="-23.2">-5%</tspan></text>
<rect x="229" y="2369.5" width="141" height="7" fill="#3fa36a"/>
<text transform="translate(415.89 2396.50) scale(1.1050 1.0000)" font-size="80">Fe<tspan font-size="57.6" dy="23.2">2</tspan><tspan dy="-23.2">O</tspan><tspan font-size="57.6" dy="23.2">3</tspan><tspan dy="-23.2">/P</tspan><tspan font-size="57.6" dy="23.2">2</tspan><tspan dy="-23.2">Mo</tspan><tspan font-size="57.6" dy="23.2">18</tspan><tspan dy="-23.2">-8%</tspan></text>
<rect x="229" y="2492.5" width="141" height="7" fill="#a77fd6"/>
<text transform="translate(415.89 2519.50) scale(1.1050 1.0000)" font-size="80">Fe<tspan font-size="57.6" dy="23.2">2</tspan><tspan dy="-23.2">O</tspan><tspan font-size="57.6" dy="23.2">3</tspan><tspan dy="-23.2">/P</tspan><tspan font-size="57.6" dy="23.2">2</tspan><tspan dy="-23.2">Mo</tspan><tspan font-size="57.6" dy="23.2">18</tspan><tspan dy="-23.2">-10%</tspan></text>
<rect x="229" y="2609.5" width="141" height="7" fill="#6aaed6"/>
<text transform="translate(415.89 2636.50) scale(1.1050 1.0000)" font-size="80">P<tspan font-size="57.6" dy="23.2">2</tspan><tspan dy="-23.2">Mo</tspan><tspan font-size="57.6" dy="23.2">18</tspan></text>
<rect x="229" y="2730.5" width="141" height="7" fill="#e0aa80"/>
<text transform="translate(415.89 2757.50) scale(1.1050 1.0000)" font-size="80">Fe<tspan font-size="57.6" dy="23.2">2</tspan><tspan dy="-23.2">O</tspan><tspan font-size="57.6" dy="23.2">3</tspan></text>
</g>
</svg></body></html>
